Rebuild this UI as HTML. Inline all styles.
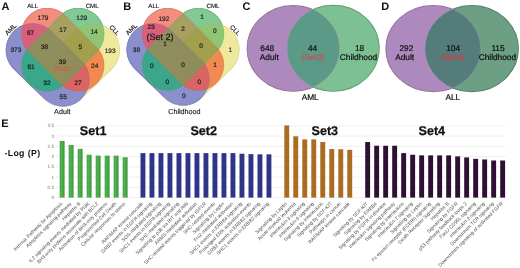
<!DOCTYPE html>
<html><head><meta charset="utf-8"><style>
html,body{margin:0;padding:0;background:#fff;width:520px;height:268px;overflow:hidden;}
svg{display:block;font-family:"Liberation Sans", sans-serif;will-change:transform;text-rendering:geometricPrecision;}
</style></head><body>
<svg width="520" height="268" viewBox="0 0 520 268" font-family='"Liberation Sans", sans-serif'>
<rect width="520" height="268" fill="#fff"/>
<defs><linearGradient id="gG" x1="0" x2="1" y1="0" y2="0"><stop offset="0" stop-color="#3e9e3e"/><stop offset="0.35" stop-color="#52b252"/><stop offset="1" stop-color="#389838"/></linearGradient></defs>
<path d="M44.37,98.43 L45.00,99.02 L45.64,99.59 L46.31,100.14 L46.99,100.67 L47.69,101.18 L48.41,101.66 L49.14,102.12 L49.89,102.55 L50.65,102.96 L51.42,103.35 L52.20,103.71 L53.00,104.04 L53.81,104.35 L54.63,104.63 L55.45,104.89 L56.28,105.11 L57.13,105.31 L57.97,105.49 L58.82,105.63 L59.68,105.75 L60.54,105.83 L61.40,105.89 L62.26,105.93 L63.13,105.93 L63.99,105.90 L64.85,105.85 L65.71,105.77 L66.57,105.66 L67.42,105.52 L68.27,105.36 L69.11,105.17 L69.95,104.95 L70.78,104.70 L71.60,104.43 L72.41,104.12 L73.21,103.80 L73.99,103.44 L74.77,103.06 L75.53,102.66 L76.28,102.23 L77.02,101.78 L77.74,101.30 L78.44,100.80 L79.13,100.28 L79.80,99.73 L80.45,99.17 L81.09,98.58 L81.70,97.97 L82.29,97.34 L82.87,96.69 L83.42,96.03 L83.94,95.35 L84.45,94.65 L84.93,93.93 L85.39,93.20 L85.83,92.45 L86.24,91.69 L86.62,90.92 L86.98,90.13 L87.32,89.34 L87.63,88.53 L87.91,87.71 L88.16,86.89 L88.39,86.05 L88.59,85.21 L88.76,84.37 L88.90,83.51 L89.02,82.66 L89.11,81.80 L89.17,80.94 L89.20,80.07 L89.20,79.21 L89.18,78.35 L89.13,77.48 L89.04,76.62 L88.94,75.77 L88.80,74.91 L88.63,74.07 L88.44,73.22 L88.22,72.39 L87.97,71.56 L87.70,70.74 L87.40,69.93 L87.07,69.13 L86.72,68.34 L86.34,67.57 L85.93,66.80 L85.51,66.05 L85.05,65.32 L84.58,64.60 L84.08,63.89 L83.55,63.21 L83.01,62.54 L82.44,61.88 L81.85,61.25 L81.24,60.64 L51.11,31.23 L50.48,30.64 L49.84,30.07 L49.17,29.52 L48.49,28.99 L47.79,28.48 L47.07,28.00 L46.34,27.54 L45.59,27.11 L44.83,26.70 L44.06,26.31 L43.28,25.95 L42.48,25.62 L41.67,25.31 L40.85,25.03 L40.03,24.77 L39.20,24.55 L38.35,24.35 L37.51,24.17 L36.66,24.03 L35.80,23.91 L34.94,23.83 L34.08,23.77 L33.22,23.73 L32.35,23.73 L31.49,23.76 L30.63,23.81 L29.77,23.89 L28.91,24.00 L28.06,24.14 L27.21,24.30 L26.37,24.49 L25.53,24.71 L24.70,24.96 L23.88,25.23 L23.07,25.54 L22.27,25.86 L21.49,26.22 L20.71,26.60 L19.95,27.00 L19.20,27.43 L18.46,27.88 L17.74,28.36 L17.04,28.86 L16.35,29.38 L15.68,29.93 L15.03,30.49 L14.39,31.08 L13.78,31.69 L13.19,32.32 L12.61,32.97 L12.06,33.63 L11.54,34.31 L11.03,35.01 L10.55,35.73 L10.09,36.46 L9.65,37.21 L9.24,37.97 L8.86,38.74 L8.50,39.53 L8.16,40.32 L7.85,41.13 L7.57,41.95 L7.32,42.77 L7.09,43.61 L6.89,44.45 L6.72,45.29 L6.58,46.15 L6.46,47.00 L6.37,47.86 L6.31,48.72 L6.28,49.59 L6.28,50.45 L6.30,51.31 L6.35,52.18 L6.44,53.04 L6.54,53.89 L6.68,54.75 L6.85,55.59 L7.04,56.44 L7.26,57.27 L7.51,58.10 L7.78,58.92 L8.08,59.73 L8.41,60.53 L8.76,61.32 L9.14,62.09 L9.55,62.86 L9.97,63.61 L10.43,64.34 L10.90,65.06 L11.40,65.77 L11.93,66.45 L12.47,67.12 L13.04,67.78 L13.63,68.41 L14.24,69.02Z" fill="none" stroke="#6e70b0" stroke-width="1.1"/>
<path d="M60.08,83.43 L60.68,84.01 L61.30,84.58 L61.94,85.13 L62.59,85.65 L63.26,86.15 L63.94,86.64 L64.65,87.09 L65.36,87.53 L66.09,87.94 L66.83,88.33 L67.59,88.69 L68.36,89.03 L69.13,89.34 L69.92,89.63 L70.72,89.89 L71.52,90.12 L72.33,90.33 L73.15,90.51 L73.97,90.67 L74.80,90.80 L75.63,90.90 L76.47,90.97 L77.30,91.02 L78.14,91.04 L78.98,91.03 L79.81,90.99 L80.65,90.93 L81.48,90.84 L82.31,90.72 L83.14,90.57 L83.96,90.40 L84.77,90.20 L85.58,89.98 L86.38,89.73 L87.17,89.45 L87.95,89.15 L88.72,88.82 L89.48,88.47 L90.23,88.09 L90.96,87.68 L91.68,87.26 L92.39,86.81 L93.08,86.34 L93.76,85.84 L94.42,85.32 L95.06,84.79 L95.68,84.23 L96.29,83.65 L96.87,83.05 L97.44,82.43 L97.99,81.80 L98.51,81.14 L99.01,80.47 L99.49,79.79 L99.95,79.09 L100.39,78.37 L100.80,77.64 L101.19,76.90 L101.55,76.14 L101.89,75.38 L102.20,74.60 L102.49,73.81 L102.75,73.02 L102.98,72.21 L103.19,71.40 L103.37,70.58 L103.53,69.76 L103.66,68.93 L103.76,68.10 L103.83,67.27 L103.88,66.43 L103.90,65.59 L103.89,64.76 L103.85,63.92 L103.79,63.08 L103.70,62.25 L103.58,61.42 L103.43,60.60 L103.26,59.78 L103.06,58.96 L102.84,58.16 L102.59,57.36 L102.31,56.57 L102.01,55.78 L101.68,55.01 L101.32,54.25 L100.95,53.51 L100.54,52.77 L100.12,52.05 L99.67,51.34 L99.20,50.65 L98.70,49.98 L98.18,49.32 L97.65,48.68 L97.09,48.05 L96.51,47.45 L65.52,16.07 L64.92,15.49 L64.30,14.92 L63.66,14.37 L63.01,13.85 L62.34,13.35 L61.66,12.86 L60.95,12.41 L60.24,11.97 L59.51,11.56 L58.77,11.17 L58.01,10.81 L57.24,10.47 L56.47,10.16 L55.68,9.87 L54.88,9.61 L54.08,9.38 L53.27,9.17 L52.45,8.99 L51.63,8.83 L50.80,8.70 L49.97,8.60 L49.13,8.53 L48.30,8.48 L47.46,8.46 L46.62,8.47 L45.79,8.51 L44.95,8.57 L44.12,8.66 L43.29,8.78 L42.46,8.93 L41.64,9.10 L40.83,9.30 L40.02,9.52 L39.22,9.77 L38.43,10.05 L37.65,10.35 L36.88,10.68 L36.12,11.03 L35.37,11.41 L34.64,11.82 L33.92,12.24 L33.21,12.69 L32.52,13.16 L31.84,13.66 L31.18,14.18 L30.54,14.71 L29.92,15.27 L29.31,15.85 L28.73,16.45 L28.16,17.07 L27.61,17.70 L27.09,18.36 L26.59,19.03 L26.11,19.71 L25.65,20.41 L25.21,21.13 L24.80,21.86 L24.41,22.60 L24.05,23.36 L23.71,24.12 L23.40,24.90 L23.11,25.69 L22.85,26.48 L22.62,27.29 L22.41,28.10 L22.23,28.92 L22.07,29.74 L21.94,30.57 L21.84,31.40 L21.77,32.23 L21.72,33.07 L21.70,33.91 L21.71,34.74 L21.75,35.58 L21.81,36.42 L21.90,37.25 L22.02,38.08 L22.17,38.90 L22.34,39.72 L22.54,40.54 L22.76,41.34 L23.01,42.14 L23.29,42.93 L23.59,43.72 L23.92,44.49 L24.28,45.25 L24.65,45.99 L25.06,46.73 L25.48,47.45 L25.93,48.16 L26.40,48.85 L26.90,49.52 L27.42,50.18 L27.95,50.82 L28.51,51.45 L29.09,52.05Z" fill="none" stroke="#d86a5e" stroke-width="1.1"/>
<path d="M96.51,52.05 L97.09,51.45 L97.65,50.82 L98.18,50.18 L98.70,49.52 L99.20,48.85 L99.67,48.16 L100.12,47.45 L100.54,46.73 L100.95,45.99 L101.32,45.25 L101.68,44.49 L102.01,43.72 L102.31,42.93 L102.59,42.14 L102.84,41.34 L103.06,40.54 L103.26,39.72 L103.43,38.90 L103.58,38.08 L103.70,37.25 L103.79,36.42 L103.85,35.58 L103.89,34.74 L103.90,33.91 L103.88,33.07 L103.83,32.23 L103.76,31.40 L103.66,30.57 L103.53,29.74 L103.37,28.92 L103.19,28.10 L102.98,27.29 L102.75,26.48 L102.49,25.69 L102.20,24.90 L101.89,24.12 L101.55,23.36 L101.19,22.60 L100.80,21.86 L100.39,21.13 L99.95,20.41 L99.49,19.71 L99.01,19.03 L98.51,18.36 L97.99,17.70 L97.44,17.07 L96.87,16.45 L96.29,15.85 L95.68,15.27 L95.06,14.71 L94.42,14.18 L93.76,13.66 L93.08,13.16 L92.39,12.69 L91.68,12.24 L90.96,11.82 L90.23,11.41 L89.48,11.03 L88.72,10.68 L87.95,10.35 L87.17,10.05 L86.38,9.77 L85.58,9.52 L84.77,9.30 L83.96,9.10 L83.14,8.93 L82.31,8.78 L81.48,8.66 L80.65,8.57 L79.81,8.51 L78.98,8.47 L78.14,8.46 L77.30,8.48 L76.47,8.53 L75.63,8.60 L74.80,8.70 L73.97,8.83 L73.15,8.99 L72.33,9.17 L71.52,9.38 L70.72,9.61 L69.92,9.87 L69.13,10.16 L68.36,10.47 L67.59,10.81 L66.83,11.17 L66.09,11.56 L65.36,11.97 L64.65,12.41 L63.94,12.86 L63.26,13.35 L62.59,13.85 L61.94,14.37 L61.30,14.92 L60.68,15.49 L60.08,16.07 L29.09,47.45 L28.51,48.05 L27.95,48.68 L27.42,49.32 L26.90,49.98 L26.40,50.65 L25.93,51.34 L25.48,52.05 L25.06,52.77 L24.65,53.51 L24.28,54.25 L23.92,55.01 L23.59,55.78 L23.29,56.57 L23.01,57.36 L22.76,58.16 L22.54,58.96 L22.34,59.78 L22.17,60.60 L22.02,61.42 L21.90,62.25 L21.81,63.08 L21.75,63.92 L21.71,64.76 L21.70,65.59 L21.72,66.43 L21.77,67.27 L21.84,68.10 L21.94,68.93 L22.07,69.76 L22.23,70.58 L22.41,71.40 L22.62,72.21 L22.85,73.02 L23.11,73.81 L23.40,74.60 L23.71,75.38 L24.05,76.14 L24.41,76.90 L24.80,77.64 L25.21,78.37 L25.65,79.09 L26.11,79.79 L26.59,80.47 L27.09,81.14 L27.61,81.80 L28.16,82.43 L28.73,83.05 L29.31,83.65 L29.92,84.23 L30.54,84.79 L31.18,85.32 L31.84,85.84 L32.52,86.34 L33.21,86.81 L33.92,87.26 L34.64,87.68 L35.37,88.09 L36.12,88.47 L36.88,88.82 L37.65,89.15 L38.43,89.45 L39.22,89.73 L40.02,89.98 L40.83,90.20 L41.64,90.40 L42.46,90.57 L43.29,90.72 L44.12,90.84 L44.95,90.93 L45.79,90.99 L46.62,91.03 L47.46,91.04 L48.30,91.02 L49.13,90.97 L49.97,90.90 L50.80,90.80 L51.63,90.67 L52.45,90.51 L53.27,90.33 L54.08,90.12 L54.88,89.89 L55.68,89.63 L56.47,89.34 L57.24,89.03 L58.01,88.69 L58.77,88.33 L59.51,87.94 L60.24,87.53 L60.95,87.09 L61.66,86.64 L62.34,86.15 L63.01,85.65 L63.66,85.13 L64.30,84.58 L64.92,84.01 L65.52,83.43Z" fill="none" stroke="#52a86a" stroke-width="1.1"/>
<path d="M111.36,69.02 L111.97,68.41 L112.56,67.78 L113.13,67.12 L113.67,66.45 L114.20,65.77 L114.70,65.06 L115.17,64.34 L115.63,63.61 L116.05,62.86 L116.46,62.09 L116.84,61.32 L117.19,60.53 L117.52,59.73 L117.82,58.92 L118.09,58.10 L118.34,57.27 L118.56,56.44 L118.75,55.59 L118.92,54.75 L119.06,53.89 L119.16,53.04 L119.25,52.18 L119.30,51.31 L119.32,50.45 L119.32,49.59 L119.29,48.72 L119.23,47.86 L119.14,47.00 L119.02,46.15 L118.88,45.29 L118.71,44.45 L118.51,43.61 L118.28,42.77 L118.03,41.95 L117.75,41.13 L117.44,40.32 L117.10,39.53 L116.74,38.74 L116.36,37.97 L115.95,37.21 L115.51,36.46 L115.05,35.73 L114.57,35.01 L114.06,34.31 L113.54,33.63 L112.99,32.97 L112.41,32.32 L111.82,31.69 L111.21,31.08 L110.57,30.49 L109.92,29.93 L109.25,29.38 L108.56,28.86 L107.86,28.36 L107.14,27.88 L106.40,27.43 L105.65,27.00 L104.89,26.60 L104.11,26.22 L103.33,25.86 L102.53,25.54 L101.72,25.23 L100.90,24.96 L100.07,24.71 L99.23,24.49 L98.39,24.30 L97.54,24.14 L96.69,24.00 L95.83,23.89 L94.97,23.81 L94.11,23.76 L93.25,23.73 L92.38,23.73 L91.52,23.77 L90.66,23.83 L89.80,23.91 L88.94,24.03 L88.09,24.17 L87.25,24.35 L86.40,24.55 L85.57,24.77 L84.75,25.03 L83.93,25.31 L83.12,25.62 L82.32,25.95 L81.54,26.31 L80.77,26.70 L80.01,27.11 L79.26,27.54 L78.53,28.00 L77.81,28.48 L77.11,28.99 L76.43,29.52 L75.76,30.07 L75.12,30.64 L74.49,31.23 L44.36,60.64 L43.75,61.25 L43.16,61.88 L42.59,62.54 L42.05,63.21 L41.52,63.89 L41.02,64.60 L40.55,65.32 L40.09,66.05 L39.67,66.80 L39.26,67.57 L38.88,68.34 L38.53,69.13 L38.20,69.93 L37.90,70.74 L37.63,71.56 L37.38,72.39 L37.16,73.22 L36.97,74.07 L36.80,74.91 L36.66,75.77 L36.56,76.62 L36.47,77.48 L36.42,78.35 L36.40,79.21 L36.40,80.07 L36.43,80.94 L36.49,81.80 L36.58,82.66 L36.70,83.51 L36.84,84.37 L37.01,85.21 L37.21,86.05 L37.44,86.89 L37.69,87.71 L37.97,88.53 L38.28,89.34 L38.62,90.13 L38.98,90.92 L39.36,91.69 L39.77,92.45 L40.21,93.20 L40.67,93.93 L41.15,94.65 L41.66,95.35 L42.18,96.03 L42.73,96.69 L43.31,97.34 L43.90,97.97 L44.51,98.58 L45.15,99.17 L45.80,99.73 L46.47,100.28 L47.16,100.80 L47.86,101.30 L48.58,101.78 L49.32,102.23 L50.07,102.66 L50.83,103.06 L51.61,103.44 L52.39,103.80 L53.19,104.12 L54.00,104.43 L54.82,104.70 L55.65,104.95 L56.49,105.17 L57.33,105.36 L58.18,105.52 L59.03,105.66 L59.89,105.77 L60.75,105.85 L61.61,105.90 L62.47,105.93 L63.34,105.93 L64.20,105.89 L65.06,105.83 L65.92,105.75 L66.78,105.63 L67.63,105.49 L68.47,105.31 L69.32,105.11 L70.15,104.89 L70.97,104.63 L71.79,104.35 L72.60,104.04 L73.40,103.71 L74.18,103.35 L74.95,102.96 L75.71,102.55 L76.46,102.12 L77.19,101.66 L77.91,101.18 L78.61,100.67 L79.29,100.14 L79.96,99.59 L80.60,99.02 L81.23,98.43Z" fill="none" stroke="#d8d080" stroke-width="1.1"/>
<path d="M102.20,24.90 L101.89,24.12 L101.55,23.36 L101.19,22.60 L100.80,21.86 L100.39,21.13 L99.95,20.41 L99.49,19.71 L99.01,19.03 L98.51,18.36 L97.99,17.70 L97.44,17.07 L96.87,16.45 L96.29,15.85 L95.68,15.27 L95.06,14.71 L94.42,14.18 L93.76,13.66 L93.08,13.16 L92.39,12.69 L91.68,12.24 L90.96,11.82 L90.23,11.41 L89.48,11.03 L88.72,10.68 L87.95,10.35 L87.17,10.05 L86.38,9.77 L85.58,9.52 L84.77,9.30 L83.96,9.10 L83.14,8.93 L82.31,8.78 L81.48,8.66 L80.65,8.57 L79.81,8.51 L78.98,8.47 L78.14,8.46 L77.30,8.48 L76.47,8.53 L75.63,8.60 L74.80,8.70 L73.97,8.83 L73.15,8.99 L72.33,9.17 L71.52,9.38 L70.72,9.61 L69.92,9.87 L69.13,10.16 L68.36,10.47 L67.59,10.81 L66.83,11.17 L66.09,11.56 L65.36,11.97 L64.65,12.41 L63.94,12.86 L63.26,13.35 L62.80,13.69 L62.34,13.35 L61.66,12.86 L60.95,12.41 L60.24,11.97 L59.51,11.56 L58.77,11.17 L58.01,10.81 L57.24,10.47 L56.47,10.16 L55.68,9.87 L54.88,9.61 L54.08,9.38 L53.27,9.17 L52.45,8.99 L51.63,8.83 L50.80,8.70 L49.97,8.60 L49.13,8.53 L48.30,8.48 L47.46,8.46 L46.62,8.47 L45.79,8.51 L44.95,8.57 L44.12,8.66 L43.29,8.78 L42.46,8.93 L41.64,9.10 L40.83,9.30 L40.02,9.52 L39.22,9.77 L38.43,10.05 L37.65,10.35 L36.88,10.68 L36.12,11.03 L35.37,11.41 L34.64,11.82 L33.92,12.24 L33.21,12.69 L32.52,13.16 L31.84,13.66 L31.18,14.18 L30.54,14.71 L29.92,15.27 L29.31,15.85 L28.73,16.45 L28.16,17.07 L27.61,17.70 L27.09,18.36 L26.59,19.03 L26.11,19.71 L25.65,20.41 L25.21,21.13 L24.80,21.86 L24.41,22.60 L24.05,23.36 L23.71,24.12 L23.40,24.90 L23.18,25.50 L23.07,25.54 L22.27,25.86 L21.49,26.22 L20.71,26.60 L19.95,27.00 L19.20,27.43 L18.46,27.88 L17.74,28.36 L17.04,28.86 L16.35,29.38 L15.68,29.93 L15.03,30.49 L14.39,31.08 L13.78,31.69 L13.19,32.32 L12.61,32.97 L12.06,33.63 L11.54,34.31 L11.03,35.01 L10.55,35.73 L10.09,36.46 L9.65,37.21 L9.24,37.97 L8.86,38.74 L8.50,39.53 L8.16,40.32 L7.85,41.13 L7.57,41.95 L7.32,42.77 L7.09,43.61 L6.89,44.45 L6.72,45.29 L6.58,46.15 L6.46,47.00 L6.37,47.86 L6.31,48.72 L6.28,49.59 L6.28,50.45 L6.30,51.31 L6.35,52.18 L6.44,53.04 L6.54,53.89 L6.68,54.75 L6.85,55.59 L7.04,56.44 L7.26,57.27 L7.51,58.10 L7.78,58.92 L8.08,59.73 L8.41,60.53 L8.76,61.32 L9.14,62.09 L9.55,62.86 L9.97,63.61 L10.43,64.34 L10.90,65.06 L11.40,65.77 L11.93,66.45 L12.47,67.12 L13.04,67.78 L13.63,68.41 L14.24,69.02 L43.94,98.01 L44.51,98.58 L45.15,99.17 L45.80,99.73 L46.47,100.28 L47.16,100.80 L47.86,101.30 L48.58,101.78 L49.32,102.23 L50.07,102.66 L50.83,103.06 L51.61,103.44 L52.39,103.80 L53.19,104.12 L54.00,104.43 L54.82,104.70 L55.65,104.95 L56.49,105.17 L57.09,105.31 L57.13,105.31 L57.14,105.32 L57.33,105.36 L57.90,105.47 L57.97,105.49 L58.00,105.49 L58.18,105.52 L58.71,105.61 L58.82,105.63 L58.86,105.64 L59.03,105.66 L59.52,105.72 L59.68,105.75 L59.73,105.75 L59.89,105.77 L60.34,105.81 L60.54,105.83 L60.61,105.84 L60.75,105.85 L61.16,105.88 L61.40,105.89 L61.48,105.90 L61.61,105.90 L61.98,105.92 L62.26,105.93 L62.36,105.93 L62.47,105.93 L62.80,105.93 L63.13,105.93 L63.24,105.93 L63.34,105.93 L63.62,105.92 L63.99,105.90 L64.12,105.90 L64.20,105.89 L64.44,105.88 L64.85,105.85 L64.99,105.84 L65.06,105.83 L65.26,105.81 L65.71,105.77 L65.87,105.75 L65.92,105.75 L66.08,105.72 L66.57,105.66 L66.74,105.64 L66.78,105.63 L66.89,105.61 L67.42,105.52 L67.60,105.49 L67.63,105.49 L67.70,105.47 L68.27,105.36 L68.46,105.32 L68.47,105.31 L68.51,105.31 L69.11,105.17 L69.95,104.95 L70.78,104.70 L71.60,104.43 L72.41,104.12 L73.21,103.80 L73.99,103.44 L74.77,103.06 L75.53,102.66 L76.28,102.23 L77.02,101.78 L77.74,101.30 L78.44,100.80 L79.13,100.28 L79.80,99.73 L80.45,99.17 L81.09,98.58 L81.66,98.01 L111.36,69.02 L111.97,68.41 L112.56,67.78 L113.13,67.12 L113.67,66.45 L114.20,65.77 L114.70,65.06 L115.17,64.34 L115.63,63.61 L116.05,62.86 L116.46,62.09 L116.84,61.32 L117.19,60.53 L117.52,59.73 L117.82,58.92 L118.09,58.10 L118.34,57.27 L118.56,56.44 L118.75,55.59 L118.92,54.75 L119.06,53.89 L119.16,53.04 L119.25,52.18 L119.30,51.31 L119.32,50.45 L119.32,49.59 L119.29,48.72 L119.23,47.86 L119.14,47.00 L119.02,46.15 L118.88,45.29 L118.71,44.45 L118.51,43.61 L118.28,42.77 L118.03,41.95 L117.75,41.13 L117.44,40.32 L117.10,39.53 L116.74,38.74 L116.36,37.97 L115.95,37.21 L115.51,36.46 L115.05,35.73 L114.57,35.01 L114.06,34.31 L113.54,33.63 L112.99,32.97 L112.41,32.32 L111.82,31.69 L111.21,31.08 L110.57,30.49 L109.92,29.93 L109.25,29.38 L108.56,28.86 L107.86,28.36 L107.14,27.88 L106.40,27.43 L105.65,27.00 L104.89,26.60 L104.11,26.22 L103.33,25.86 L102.53,25.54 L102.42,25.50Z" fill="#8e8e80"/>
<path d="M57.13,105.31 L57.14,105.32 L57.09,105.31ZM57.97,105.49 L58.00,105.49 L57.90,105.47ZM58.82,105.63 L58.86,105.64 L58.71,105.61ZM59.68,105.75 L59.73,105.75 L59.52,105.72ZM60.54,105.83 L60.61,105.84 L60.34,105.81ZM61.40,105.89 L61.48,105.90 L61.16,105.88ZM62.26,105.93 L62.36,105.93 L61.98,105.92ZM63.13,105.93 L63.24,105.93 L62.80,105.93ZM63.99,105.90 L64.12,105.90 L63.62,105.92ZM64.85,105.85 L64.99,105.84 L64.44,105.88ZM65.71,105.77 L65.87,105.75 L65.26,105.81ZM66.57,105.66 L66.74,105.64 L66.08,105.72ZM67.42,105.52 L67.60,105.49 L66.89,105.61ZM68.27,105.36 L68.46,105.32 L67.70,105.47ZM69.11,105.17 L69.95,104.95 L70.78,104.70 L71.60,104.43 L72.41,104.12 L73.21,103.80 L73.99,103.44 L74.77,103.06 L75.53,102.66 L76.28,102.23 L77.02,101.78 L77.74,101.30 L78.44,100.80 L79.13,100.28 L79.80,99.73 L80.45,99.17 L81.09,98.58 L81.66,98.01 L81.23,98.43 L80.60,99.02 L79.96,99.59 L79.29,100.14 L78.61,100.67 L77.91,101.18 L77.19,101.66 L76.46,102.12 L75.71,102.55 L74.95,102.96 L74.18,103.35 L73.40,103.71 L72.60,104.04 L71.79,104.35 L70.97,104.63 L70.15,104.89 L69.32,105.11 L68.51,105.31ZM23.07,25.54 L22.27,25.86 L21.49,26.22 L20.71,26.60 L19.95,27.00 L19.20,27.43 L18.46,27.88 L17.74,28.36 L17.04,28.86 L16.35,29.38 L15.68,29.93 L15.03,30.49 L14.39,31.08 L13.78,31.69 L13.19,32.32 L12.61,32.97 L12.06,33.63 L11.54,34.31 L11.03,35.01 L10.55,35.73 L10.09,36.46 L9.65,37.21 L9.24,37.97 L8.86,38.74 L8.50,39.53 L8.16,40.32 L7.85,41.13 L7.57,41.95 L7.32,42.77 L7.09,43.61 L6.89,44.45 L6.72,45.29 L6.58,46.15 L6.46,47.00 L6.37,47.86 L6.31,48.72 L6.28,49.59 L6.28,50.45 L6.30,51.31 L6.35,52.18 L6.44,53.04 L6.54,53.89 L6.68,54.75 L6.85,55.59 L7.04,56.44 L7.26,57.27 L7.51,58.10 L7.78,58.92 L8.08,59.73 L8.41,60.53 L8.76,61.32 L9.14,62.09 L9.55,62.86 L9.97,63.61 L10.43,64.34 L10.90,65.06 L11.40,65.77 L11.93,66.45 L12.47,67.12 L13.04,67.78 L13.63,68.41 L14.24,69.02 L43.94,98.01 L43.90,97.97 L43.31,97.34 L42.73,96.69 L42.18,96.03 L41.66,95.35 L41.15,94.65 L40.67,93.93 L40.21,93.20 L39.77,92.45 L39.36,91.69 L38.98,90.92 L38.62,90.13 L38.31,89.40 L37.65,89.15 L36.88,88.82 L36.12,88.47 L35.37,88.09 L34.64,87.68 L33.92,87.26 L33.21,86.81 L32.52,86.34 L31.84,85.84 L31.18,85.32 L30.54,84.79 L29.92,84.23 L29.31,83.65 L28.73,83.05 L28.16,82.43 L27.61,81.80 L27.09,81.14 L26.59,80.47 L26.11,79.79 L25.65,79.09 L25.21,78.37 L24.80,77.64 L24.41,76.90 L24.05,76.14 L23.71,75.38 L23.40,74.60 L23.11,73.81 L22.85,73.02 L22.62,72.21 L22.41,71.40 L22.23,70.58 L22.07,69.76 L21.94,68.93 L21.84,68.10 L21.77,67.27 L21.72,66.43 L21.70,65.59 L21.71,64.76 L21.75,63.92 L21.81,63.08 L21.90,62.25 L22.02,61.42 L22.17,60.60 L22.34,59.78 L22.54,58.96 L22.76,58.16 L23.01,57.36 L23.29,56.57 L23.59,55.78 L23.92,55.01 L24.28,54.25 L24.65,53.51 L25.06,52.77 L25.48,52.05 L25.93,51.34 L26.40,50.65 L26.90,49.98 L27.08,49.75 L26.90,49.52 L26.40,48.85 L25.93,48.16 L25.48,47.45 L25.06,46.73 L24.65,45.99 L24.28,45.25 L23.92,44.49 L23.59,43.72 L23.29,42.93 L23.01,42.14 L22.76,41.34 L22.54,40.54 L22.34,39.72 L22.17,38.90 L22.02,38.08 L21.90,37.25 L21.81,36.42 L21.75,35.58 L21.71,34.74 L21.70,33.91 L21.72,33.07 L21.77,32.23 L21.84,31.40 L21.94,30.57 L22.07,29.74 L22.23,28.92 L22.41,28.10 L22.62,27.29 L22.85,26.48 L23.11,25.69 L23.18,25.50Z" fill="#8b8fcb" stroke="#8b8fcb" stroke-width="0.7" stroke-linejoin="round"/>
<path d="M62.34,13.35 L61.66,12.86 L60.95,12.41 L60.24,11.97 L59.51,11.56 L58.77,11.17 L58.01,10.81 L57.24,10.47 L56.47,10.16 L55.68,9.87 L54.88,9.61 L54.08,9.38 L53.27,9.17 L52.45,8.99 L51.63,8.83 L50.80,8.70 L49.97,8.60 L49.13,8.53 L48.30,8.48 L47.46,8.46 L46.62,8.47 L45.79,8.51 L44.95,8.57 L44.12,8.66 L43.29,8.78 L42.46,8.93 L41.64,9.10 L40.83,9.30 L40.02,9.52 L39.22,9.77 L38.43,10.05 L37.65,10.35 L36.88,10.68 L36.12,11.03 L35.37,11.41 L34.64,11.82 L33.92,12.24 L33.21,12.69 L32.52,13.16 L31.84,13.66 L31.18,14.18 L30.54,14.71 L29.92,15.27 L29.31,15.85 L28.73,16.45 L28.16,17.07 L27.61,17.70 L27.09,18.36 L26.59,19.03 L26.11,19.71 L25.65,20.41 L25.21,21.13 L24.80,21.86 L24.41,22.60 L24.05,23.36 L23.71,24.12 L23.40,24.90 L23.18,25.50 L23.88,25.23 L24.70,24.96 L25.53,24.71 L26.37,24.49 L27.21,24.30 L28.06,24.14 L28.91,24.00 L29.77,23.89 L30.63,23.81 L31.49,23.76 L32.35,23.73 L33.22,23.73 L34.08,23.77 L34.94,23.83 L35.80,23.91 L36.66,24.03 L37.51,24.17 L38.35,24.35 L39.20,24.55 L40.03,24.77 L40.85,25.03 L41.67,25.31 L42.48,25.62 L43.28,25.95 L44.06,26.31 L44.83,26.70 L45.59,27.11 L46.34,27.54 L47.07,28.00 L47.79,28.48 L47.81,28.50 L60.08,16.07 L60.68,15.49 L61.30,14.92 L61.94,14.37 L62.59,13.85 L62.80,13.69Z" fill="#f38e7e" stroke="#f38e7e" stroke-width="0.7" stroke-linejoin="round"/>
<path d="M102.20,24.90 L101.89,24.12 L101.55,23.36 L101.19,22.60 L100.80,21.86 L100.39,21.13 L99.95,20.41 L99.49,19.71 L99.01,19.03 L98.51,18.36 L97.99,17.70 L97.44,17.07 L96.87,16.45 L96.29,15.85 L95.68,15.27 L95.06,14.71 L94.42,14.18 L93.76,13.66 L93.08,13.16 L92.39,12.69 L91.68,12.24 L90.96,11.82 L90.23,11.41 L89.48,11.03 L88.72,10.68 L87.95,10.35 L87.17,10.05 L86.38,9.77 L85.58,9.52 L84.77,9.30 L83.96,9.10 L83.14,8.93 L82.31,8.78 L81.48,8.66 L80.65,8.57 L79.81,8.51 L78.98,8.47 L78.14,8.46 L77.30,8.48 L76.47,8.53 L75.63,8.60 L74.80,8.70 L73.97,8.83 L73.15,8.99 L72.33,9.17 L71.52,9.38 L70.72,9.61 L69.92,9.87 L69.13,10.16 L68.36,10.47 L67.59,10.81 L66.83,11.17 L66.09,11.56 L65.36,11.97 L64.65,12.41 L63.94,12.86 L63.26,13.35 L62.80,13.69 L63.01,13.85 L63.66,14.37 L64.30,14.92 L64.92,15.49 L65.52,16.07 L77.79,28.50 L77.81,28.48 L78.53,28.00 L79.26,27.54 L80.01,27.11 L80.77,26.70 L81.54,26.31 L82.32,25.95 L83.12,25.62 L83.93,25.31 L84.75,25.03 L85.57,24.77 L86.40,24.55 L87.25,24.35 L88.09,24.17 L88.94,24.03 L89.80,23.91 L90.66,23.83 L91.52,23.77 L92.38,23.73 L93.25,23.73 L94.11,23.76 L94.97,23.81 L95.83,23.89 L96.69,24.00 L97.54,24.14 L98.39,24.30 L99.23,24.49 L100.07,24.71 L100.90,24.96 L101.72,25.23 L102.42,25.50Z" fill="#82c996" stroke="#82c996" stroke-width="0.7" stroke-linejoin="round"/>
<path d="M111.97,68.41 L112.56,67.78 L113.13,67.12 L113.67,66.45 L114.20,65.77 L114.70,65.06 L115.17,64.34 L115.63,63.61 L116.05,62.86 L116.46,62.09 L116.84,61.32 L117.19,60.53 L117.52,59.73 L117.82,58.92 L118.09,58.10 L118.34,57.27 L118.56,56.44 L118.75,55.59 L118.92,54.75 L119.06,53.89 L119.16,53.04 L119.25,52.18 L119.30,51.31 L119.32,50.45 L119.32,49.59 L119.29,48.72 L119.23,47.86 L119.14,47.00 L119.02,46.15 L118.88,45.29 L118.71,44.45 L118.51,43.61 L118.28,42.77 L118.03,41.95 L117.75,41.13 L117.44,40.32 L117.10,39.53 L116.74,38.74 L116.36,37.97 L115.95,37.21 L115.51,36.46 L115.05,35.73 L114.57,35.01 L114.06,34.31 L113.54,33.63 L112.99,32.97 L112.41,32.32 L111.82,31.69 L111.21,31.08 L110.57,30.49 L109.92,29.93 L109.25,29.38 L108.56,28.86 L107.86,28.36 L107.14,27.88 L106.40,27.43 L105.65,27.00 L104.89,26.60 L104.11,26.22 L103.33,25.86 L102.53,25.54 L102.42,25.50 L102.49,25.69 L102.75,26.48 L102.98,27.29 L103.19,28.10 L103.37,28.92 L103.53,29.74 L103.66,30.57 L103.76,31.40 L103.83,32.23 L103.88,33.07 L103.90,33.91 L103.89,34.74 L103.85,35.58 L103.79,36.42 L103.70,37.25 L103.58,38.08 L103.43,38.90 L103.26,39.72 L103.06,40.54 L102.84,41.34 L102.59,42.14 L102.31,42.93 L102.01,43.72 L101.68,44.49 L101.32,45.25 L100.95,45.99 L100.54,46.73 L100.12,47.45 L99.67,48.16 L99.20,48.85 L98.70,49.52 L98.52,49.75 L98.70,49.98 L99.20,50.65 L99.67,51.34 L100.12,52.05 L100.54,52.77 L100.95,53.51 L101.32,54.25 L101.68,55.01 L102.01,55.78 L102.31,56.57 L102.59,57.36 L102.84,58.16 L103.06,58.96 L103.26,59.78 L103.43,60.60 L103.58,61.42 L103.70,62.25 L103.79,63.08 L103.85,63.92 L103.89,64.76 L103.90,65.59 L103.88,66.43 L103.83,67.27 L103.76,68.10 L103.66,68.93 L103.53,69.76 L103.37,70.58 L103.19,71.40 L102.98,72.21 L102.75,73.02 L102.49,73.81 L102.20,74.60 L101.89,75.38 L101.55,76.14 L101.19,76.90 L100.80,77.64 L100.39,78.37 L99.95,79.09 L99.49,79.79 L99.01,80.47 L98.51,81.14 L97.99,81.80 L97.44,82.43 L96.87,83.05 L96.29,83.65 L95.68,84.23 L95.06,84.79 L94.42,85.32 L93.76,85.84 L93.08,86.34 L92.39,86.81 L91.68,87.26 L90.96,87.68 L90.23,88.09 L89.48,88.47 L88.72,88.82 L87.95,89.15 L87.29,89.40 L86.98,90.13 L86.62,90.92 L86.24,91.69 L85.83,92.45 L85.39,93.20 L84.93,93.93 L84.45,94.65 L83.94,95.35 L83.42,96.03 L82.87,96.69 L82.29,97.34 L81.70,97.97 L81.66,98.01 L111.36,69.02ZM44.51,98.58 L45.15,99.17 L45.80,99.73 L46.47,100.28 L47.16,100.80 L47.86,101.30 L48.58,101.78 L49.32,102.23 L50.07,102.66 L50.83,103.06 L51.61,103.44 L52.39,103.80 L53.19,104.12 L54.00,104.43 L54.82,104.70 L55.65,104.95 L56.49,105.17 L57.09,105.31 L56.28,105.11 L55.45,104.89 L54.63,104.63 L53.81,104.35 L53.00,104.04 L52.20,103.71 L51.42,103.35 L50.65,102.96 L49.89,102.55 L49.14,102.12 L48.41,101.66 L47.69,101.18 L46.99,100.67 L46.31,100.14 L45.64,99.59 L45.00,99.02 L44.37,98.43 L43.94,98.01ZM57.33,105.36 L57.90,105.47 L57.14,105.32ZM58.18,105.52 L58.71,105.61 L58.00,105.49ZM59.03,105.66 L59.52,105.72 L58.86,105.64ZM59.89,105.77 L60.34,105.81 L59.73,105.75ZM60.75,105.85 L61.16,105.88 L60.61,105.84ZM61.61,105.90 L61.98,105.92 L61.48,105.90ZM62.47,105.93 L62.80,105.93 L62.36,105.93ZM63.34,105.93 L63.62,105.92 L63.24,105.93ZM64.20,105.89 L64.44,105.88 L64.12,105.90ZM65.06,105.83 L65.26,105.81 L64.99,105.84ZM65.92,105.75 L66.08,105.72 L65.87,105.75ZM66.78,105.63 L66.89,105.61 L66.74,105.64ZM67.63,105.49 L67.70,105.47 L67.60,105.49ZM68.47,105.31 L68.51,105.31 L68.46,105.32Z" fill="#efe99e" stroke="#efe99e" stroke-width="0.7" stroke-linejoin="round"/>
<path d="M47.79,28.48 L47.07,28.00 L46.34,27.54 L45.59,27.11 L44.83,26.70 L44.06,26.31 L43.28,25.95 L42.48,25.62 L41.67,25.31 L40.85,25.03 L40.03,24.77 L39.20,24.55 L38.35,24.35 L37.51,24.17 L36.66,24.03 L35.80,23.91 L34.94,23.83 L34.08,23.77 L33.22,23.73 L32.35,23.73 L31.49,23.76 L30.63,23.81 L29.77,23.89 L28.91,24.00 L28.06,24.14 L27.21,24.30 L26.37,24.49 L25.53,24.71 L24.70,24.96 L23.88,25.23 L23.18,25.50 L23.11,25.69 L22.85,26.48 L22.62,27.29 L22.41,28.10 L22.23,28.92 L22.07,29.74 L21.94,30.57 L21.84,31.40 L21.77,32.23 L21.72,33.07 L21.70,33.91 L21.71,34.74 L21.75,35.58 L21.81,36.42 L21.90,37.25 L22.02,38.08 L22.17,38.90 L22.34,39.72 L22.54,40.54 L22.76,41.34 L23.01,42.14 L23.29,42.93 L23.59,43.72 L23.92,44.49 L24.28,45.25 L24.65,45.99 L25.06,46.73 L25.48,47.45 L25.93,48.16 L26.40,48.85 L26.90,49.52 L27.08,49.75 L27.42,49.32 L27.95,48.68 L28.51,48.05 L29.09,47.45 L47.81,28.50Z" fill="#d8607a" stroke="#d8607a" stroke-width="0.7" stroke-linejoin="round"/>
<path d="M26.90,49.98 L26.40,50.65 L25.93,51.34 L25.48,52.05 L25.06,52.77 L24.65,53.51 L24.28,54.25 L23.92,55.01 L23.59,55.78 L23.29,56.57 L23.01,57.36 L22.76,58.16 L22.54,58.96 L22.34,59.78 L22.17,60.60 L22.02,61.42 L21.90,62.25 L21.81,63.08 L21.75,63.92 L21.71,64.76 L21.70,65.59 L21.72,66.43 L21.77,67.27 L21.84,68.10 L21.94,68.93 L22.07,69.76 L22.23,70.58 L22.41,71.40 L22.62,72.21 L22.85,73.02 L23.11,73.81 L23.40,74.60 L23.71,75.38 L24.05,76.14 L24.41,76.90 L24.80,77.64 L25.21,78.37 L25.65,79.09 L26.11,79.79 L26.59,80.47 L27.09,81.14 L27.61,81.80 L28.16,82.43 L28.73,83.05 L29.31,83.65 L29.92,84.23 L30.54,84.79 L31.18,85.32 L31.84,85.84 L32.52,86.34 L33.21,86.81 L33.92,87.26 L34.64,87.68 L35.37,88.09 L36.12,88.47 L36.88,88.82 L37.65,89.15 L38.31,89.40 L38.28,89.34 L37.97,88.53 L37.69,87.71 L37.44,86.89 L37.21,86.05 L37.01,85.21 L36.84,84.37 L36.70,83.51 L36.58,82.66 L36.49,81.80 L36.43,80.94 L36.40,80.07 L36.40,79.21 L36.42,78.35 L36.47,77.48 L36.56,76.62 L36.66,75.77 L36.80,74.91 L36.97,74.07 L37.16,73.22 L37.38,72.39 L37.63,71.56 L37.90,70.74 L38.20,69.93 L38.53,69.13 L38.88,68.34 L39.26,67.57 L39.67,66.80 L40.09,66.05 L40.55,65.32 L41.02,64.60 L41.22,64.33 L29.09,52.05 L28.51,51.45 L27.95,50.82 L27.42,50.18 L27.08,49.75Z" fill="#3aa68a" stroke="#3aa68a" stroke-width="0.7" stroke-linejoin="round"/>
<path d="M45.64,99.59 L46.31,100.14 L46.99,100.67 L47.69,101.18 L48.41,101.66 L49.14,102.12 L49.89,102.55 L50.65,102.96 L51.42,103.35 L52.20,103.71 L53.00,104.04 L53.81,104.35 L54.63,104.63 L55.45,104.89 L56.28,105.11 L57.09,105.31 L57.14,105.32 L57.90,105.47 L58.00,105.49 L58.71,105.61 L58.86,105.64 L59.52,105.72 L59.73,105.75 L60.34,105.81 L60.61,105.84 L61.16,105.88 L61.48,105.90 L61.98,105.92 L62.36,105.93 L62.80,105.93 L63.24,105.93 L63.62,105.92 L64.12,105.90 L64.44,105.88 L64.99,105.84 L65.26,105.81 L65.87,105.75 L66.08,105.72 L66.74,105.64 L66.89,105.61 L67.60,105.49 L67.70,105.47 L68.46,105.32 L68.51,105.31 L69.32,105.11 L70.15,104.89 L70.97,104.63 L71.79,104.35 L72.60,104.04 L73.40,103.71 L74.18,103.35 L74.95,102.96 L75.71,102.55 L76.46,102.12 L77.19,101.66 L77.91,101.18 L78.61,100.67 L79.29,100.14 L79.96,99.59 L80.60,99.02 L81.23,98.43 L81.66,98.01 L81.70,97.97 L82.29,97.34 L82.87,96.69 L83.42,96.03 L83.94,95.35 L84.45,94.65 L84.93,93.93 L85.39,93.20 L85.83,92.45 L86.24,91.69 L86.62,90.92 L86.98,90.13 L87.29,89.40 L87.17,89.45 L86.38,89.73 L85.58,89.98 L84.77,90.20 L83.96,90.40 L83.14,90.57 L82.31,90.72 L81.48,90.84 L80.65,90.93 L79.81,90.99 L78.98,91.03 L78.14,91.04 L77.30,91.02 L76.47,90.97 L75.63,90.90 L74.80,90.80 L73.97,90.67 L73.15,90.51 L72.33,90.33 L71.52,90.12 L70.72,89.89 L69.92,89.63 L69.13,89.34 L68.36,89.03 L67.59,88.69 L66.83,88.33 L66.09,87.94 L65.36,87.53 L64.65,87.09 L63.94,86.64 L63.26,86.15 L62.80,85.81 L62.34,86.15 L61.66,86.64 L60.95,87.09 L60.24,87.53 L59.51,87.94 L58.77,88.33 L58.01,88.69 L57.24,89.03 L56.47,89.34 L55.68,89.63 L54.88,89.89 L54.08,90.12 L53.27,90.33 L52.45,90.51 L51.63,90.67 L50.80,90.80 L49.97,90.90 L49.13,90.97 L48.30,91.02 L47.46,91.04 L46.62,91.03 L45.79,90.99 L44.95,90.93 L44.12,90.84 L43.29,90.72 L42.46,90.57 L41.64,90.40 L40.83,90.20 L40.02,89.98 L39.22,89.73 L38.43,89.45 L38.31,89.40 L38.62,90.13 L38.98,90.92 L39.36,91.69 L39.77,92.45 L40.21,93.20 L40.67,93.93 L41.15,94.65 L41.66,95.35 L42.18,96.03 L42.73,96.69 L43.31,97.34 L43.90,97.97 L43.94,98.01 L44.37,98.43 L45.00,99.02Z" fill="#8b8fcb" stroke="#8b8fcb" stroke-width="0.7" stroke-linejoin="round"/>
<path d="M65.52,16.07 L64.92,15.49 L64.30,14.92 L63.66,14.37 L63.01,13.85 L62.80,13.69 L62.59,13.85 L61.94,14.37 L61.30,14.92 L60.68,15.49 L60.08,16.07 L47.81,28.50 L48.49,28.99 L49.17,29.52 L49.84,30.07 L50.48,30.64 L51.11,31.23 L62.80,42.64 L74.49,31.23 L75.12,30.64 L75.76,30.07 L76.43,29.52 L77.11,28.99 L77.79,28.50Z" fill="#a8a060" stroke="#a8a060" stroke-width="0.7" stroke-linejoin="round"/>
<path d="M87.95,89.15 L88.72,88.82 L89.48,88.47 L90.23,88.09 L90.96,87.68 L91.68,87.26 L92.39,86.81 L93.08,86.34 L93.76,85.84 L94.42,85.32 L95.06,84.79 L95.68,84.23 L96.29,83.65 L96.87,83.05 L97.44,82.43 L97.99,81.80 L98.51,81.14 L99.01,80.47 L99.49,79.79 L99.95,79.09 L100.39,78.37 L100.80,77.64 L101.19,76.90 L101.55,76.14 L101.89,75.38 L102.20,74.60 L102.49,73.81 L102.75,73.02 L102.98,72.21 L103.19,71.40 L103.37,70.58 L103.53,69.76 L103.66,68.93 L103.76,68.10 L103.83,67.27 L103.88,66.43 L103.90,65.59 L103.89,64.76 L103.85,63.92 L103.79,63.08 L103.70,62.25 L103.58,61.42 L103.43,60.60 L103.26,59.78 L103.06,58.96 L102.84,58.16 L102.59,57.36 L102.31,56.57 L102.01,55.78 L101.68,55.01 L101.32,54.25 L100.95,53.51 L100.54,52.77 L100.12,52.05 L99.67,51.34 L99.20,50.65 L98.70,49.98 L98.52,49.75 L98.18,50.18 L97.65,50.82 L97.09,51.45 L96.51,52.05 L84.38,64.33 L84.58,64.60 L85.05,65.32 L85.51,66.05 L85.93,66.80 L86.34,67.57 L86.72,68.34 L87.07,69.13 L87.40,69.93 L87.70,70.74 L87.97,71.56 L88.22,72.39 L88.44,73.22 L88.63,74.07 L88.80,74.91 L88.94,75.77 L89.04,76.62 L89.13,77.48 L89.18,78.35 L89.20,79.21 L89.20,80.07 L89.17,80.94 L89.11,81.80 L89.02,82.66 L88.90,83.51 L88.76,84.37 L88.59,85.21 L88.39,86.05 L88.16,86.89 L87.91,87.71 L87.63,88.53 L87.32,89.34 L87.29,89.40Z" fill="#f08a50" stroke="#f08a50" stroke-width="0.7" stroke-linejoin="round"/>
<path d="M98.70,49.52 L99.20,48.85 L99.67,48.16 L100.12,47.45 L100.54,46.73 L100.95,45.99 L101.32,45.25 L101.68,44.49 L102.01,43.72 L102.31,42.93 L102.59,42.14 L102.84,41.34 L103.06,40.54 L103.26,39.72 L103.43,38.90 L103.58,38.08 L103.70,37.25 L103.79,36.42 L103.85,35.58 L103.89,34.74 L103.90,33.91 L103.88,33.07 L103.83,32.23 L103.76,31.40 L103.66,30.57 L103.53,29.74 L103.37,28.92 L103.19,28.10 L102.98,27.29 L102.75,26.48 L102.49,25.69 L102.42,25.50 L101.72,25.23 L100.90,24.96 L100.07,24.71 L99.23,24.49 L98.39,24.30 L97.54,24.14 L96.69,24.00 L95.83,23.89 L94.97,23.81 L94.11,23.76 L93.25,23.73 L92.38,23.73 L91.52,23.77 L90.66,23.83 L89.80,23.91 L88.94,24.03 L88.09,24.17 L87.25,24.35 L86.40,24.55 L85.57,24.77 L84.75,25.03 L83.93,25.31 L83.12,25.62 L82.32,25.95 L81.54,26.31 L80.77,26.70 L80.01,27.11 L79.26,27.54 L78.53,28.00 L77.81,28.48 L77.79,28.50 L96.51,47.45 L97.09,48.05 L97.65,48.68 L98.18,49.32 L98.52,49.75Z" fill="#8ec676" stroke="#8ec676" stroke-width="0.7" stroke-linejoin="round"/>
<path d="M51.11,31.23 L50.48,30.64 L49.84,30.07 L49.17,29.52 L48.49,28.99 L47.81,28.50 L29.09,47.45 L28.51,48.05 L27.95,48.68 L27.42,49.32 L27.08,49.75 L27.42,50.18 L27.95,50.82 L28.51,51.45 L29.09,52.05 L41.22,64.33 L41.52,63.89 L42.05,63.21 L42.59,62.54 L43.16,61.88 L43.75,61.25 L44.36,60.64 L62.80,42.64Z" fill="#8e8e5e" stroke="#8e8e5e" stroke-width="0.7" stroke-linejoin="round"/>
<path d="M87.91,87.71 L88.16,86.89 L88.39,86.05 L88.59,85.21 L88.76,84.37 L88.90,83.51 L89.02,82.66 L89.11,81.80 L89.17,80.94 L89.20,80.07 L89.20,79.21 L89.18,78.35 L89.13,77.48 L89.04,76.62 L88.94,75.77 L88.80,74.91 L88.63,74.07 L88.44,73.22 L88.22,72.39 L87.97,71.56 L87.70,70.74 L87.40,69.93 L87.07,69.13 L86.72,68.34 L86.34,67.57 L85.93,66.80 L85.51,66.05 L85.05,65.32 L84.58,64.60 L84.38,64.33 L65.52,83.43 L64.92,84.01 L64.30,84.58 L63.66,85.13 L63.01,85.65 L62.80,85.81 L63.26,86.15 L63.94,86.64 L64.65,87.09 L65.36,87.53 L66.09,87.94 L66.83,88.33 L67.59,88.69 L68.36,89.03 L69.13,89.34 L69.92,89.63 L70.72,89.89 L71.52,90.12 L72.33,90.33 L73.15,90.51 L73.97,90.67 L74.80,90.80 L75.63,90.90 L76.47,90.97 L77.30,91.02 L78.14,91.04 L78.98,91.03 L79.81,90.99 L80.65,90.93 L81.48,90.84 L82.31,90.72 L83.14,90.57 L83.96,90.40 L84.77,90.20 L85.58,89.98 L86.38,89.73 L87.17,89.45 L87.29,89.40 L87.32,89.34 L87.63,88.53Z" fill="#d86464" stroke="#d86464" stroke-width="0.7" stroke-linejoin="round"/>
<path d="M41.02,64.60 L40.55,65.32 L40.09,66.05 L39.67,66.80 L39.26,67.57 L38.88,68.34 L38.53,69.13 L38.20,69.93 L37.90,70.74 L37.63,71.56 L37.38,72.39 L37.16,73.22 L36.97,74.07 L36.80,74.91 L36.66,75.77 L36.56,76.62 L36.47,77.48 L36.42,78.35 L36.40,79.21 L36.40,80.07 L36.43,80.94 L36.49,81.80 L36.58,82.66 L36.70,83.51 L36.84,84.37 L37.01,85.21 L37.21,86.05 L37.44,86.89 L37.69,87.71 L37.97,88.53 L38.28,89.34 L38.31,89.40 L38.43,89.45 L39.22,89.73 L40.02,89.98 L40.83,90.20 L41.64,90.40 L42.46,90.57 L43.29,90.72 L44.12,90.84 L44.95,90.93 L45.79,90.99 L46.62,91.03 L47.46,91.04 L48.30,91.02 L49.13,90.97 L49.97,90.90 L50.80,90.80 L51.63,90.67 L52.45,90.51 L53.27,90.33 L54.08,90.12 L54.88,89.89 L55.68,89.63 L56.47,89.34 L57.24,89.03 L58.01,88.69 L58.77,88.33 L59.51,87.94 L60.24,87.53 L60.95,87.09 L61.66,86.64 L62.34,86.15 L62.80,85.81 L62.59,85.65 L61.94,85.13 L61.30,84.58 L60.68,84.01 L60.08,83.43 L41.22,64.33Z" fill="#3aa68a" stroke="#3aa68a" stroke-width="0.7" stroke-linejoin="round"/>
<path d="M96.51,52.05 L97.09,51.45 L97.65,50.82 L98.18,50.18 L98.52,49.75 L98.18,49.32 L97.65,48.68 L97.09,48.05 L96.51,47.45 L77.79,28.50 L77.11,28.99 L76.43,29.52 L75.76,30.07 L75.12,30.64 L74.49,31.23 L62.80,42.64 L81.24,60.64 L81.85,61.25 L82.44,61.88 L83.01,62.54 L83.55,63.21 L84.08,63.89 L84.38,64.33Z" fill="#a2a04c" stroke="#a2a04c" stroke-width="0.7" stroke-linejoin="round"/>
<path d="M83.55,63.21 L83.01,62.54 L82.44,61.88 L81.85,61.25 L81.24,60.64 L62.80,42.64 L44.36,60.64 L43.75,61.25 L43.16,61.88 L42.59,62.54 L42.05,63.21 L41.52,63.89 L41.22,64.33 L60.08,83.43 L60.68,84.01 L61.30,84.58 L61.94,85.13 L62.59,85.65 L62.80,85.81 L63.01,85.65 L63.66,85.13 L64.30,84.58 L64.92,84.01 L65.52,83.43 L84.38,64.33 L84.08,63.89Z" fill="#8f8d5c" stroke="#8f8d5c" stroke-width="0.7" stroke-linejoin="round"/>
<path d="M44.37,98.43 L45.00,99.02 L45.64,99.59 L46.31,100.14 L46.99,100.67 L47.69,101.18 L48.41,101.66 L49.14,102.12 L49.89,102.55 L50.65,102.96 L51.42,103.35 L52.20,103.71 L53.00,104.04 L53.81,104.35 L54.63,104.63 L55.45,104.89 L56.28,105.11 L57.13,105.31 L57.97,105.49 L58.82,105.63 L59.68,105.75 L60.54,105.83 L61.40,105.89 L62.26,105.93 L63.13,105.93 L63.99,105.90 L64.85,105.85 L65.71,105.77 L66.57,105.66 L67.42,105.52 L68.27,105.36 L69.11,105.17 L69.95,104.95 L70.78,104.70 L71.60,104.43 L72.41,104.12 L73.21,103.80 L73.99,103.44 L74.77,103.06 L75.53,102.66 L76.28,102.23 L77.02,101.78 L77.74,101.30 L78.44,100.80 L79.13,100.28 L79.80,99.73 L80.45,99.17 L81.09,98.58 L81.70,97.97 L82.29,97.34 L82.87,96.69 L83.42,96.03 L83.94,95.35 L84.45,94.65 L84.93,93.93 L85.39,93.20 L85.83,92.45 L86.24,91.69 L86.62,90.92 L86.98,90.13 L87.32,89.34 L87.63,88.53 L87.91,87.71 L88.16,86.89 L88.39,86.05 L88.59,85.21 L88.76,84.37 L88.90,83.51 L89.02,82.66 L89.11,81.80 L89.17,80.94 L89.20,80.07 L89.20,79.21 L89.18,78.35 L89.13,77.48 L89.04,76.62 L88.94,75.77 L88.80,74.91 L88.63,74.07 L88.44,73.22 L88.22,72.39 L87.97,71.56 L87.70,70.74 L87.40,69.93 L87.07,69.13 L86.72,68.34 L86.34,67.57 L85.93,66.80 L85.51,66.05 L85.05,65.32 L84.58,64.60 L84.08,63.89 L83.55,63.21 L83.01,62.54 L82.44,61.88 L81.85,61.25 L81.24,60.64 L51.11,31.23 L50.48,30.64 L49.84,30.07 L49.17,29.52 L48.49,28.99 L47.79,28.48 L47.07,28.00 L46.34,27.54 L45.59,27.11 L44.83,26.70 L44.06,26.31 L43.28,25.95 L42.48,25.62 L41.67,25.31 L40.85,25.03 L40.03,24.77 L39.20,24.55 L38.35,24.35 L37.51,24.17 L36.66,24.03 L35.80,23.91 L34.94,23.83 L34.08,23.77 L33.22,23.73 L32.35,23.73 L31.49,23.76 L30.63,23.81 L29.77,23.89 L28.91,24.00 L28.06,24.14 L27.21,24.30 L26.37,24.49 L25.53,24.71 L24.70,24.96 L23.88,25.23 L23.07,25.54 L22.27,25.86 L21.49,26.22 L20.71,26.60 L19.95,27.00 L19.20,27.43 L18.46,27.88 L17.74,28.36 L17.04,28.86 L16.35,29.38 L15.68,29.93 L15.03,30.49 L14.39,31.08 L13.78,31.69 L13.19,32.32 L12.61,32.97 L12.06,33.63 L11.54,34.31 L11.03,35.01 L10.55,35.73 L10.09,36.46 L9.65,37.21 L9.24,37.97 L8.86,38.74 L8.50,39.53 L8.16,40.32 L7.85,41.13 L7.57,41.95 L7.32,42.77 L7.09,43.61 L6.89,44.45 L6.72,45.29 L6.58,46.15 L6.46,47.00 L6.37,47.86 L6.31,48.72 L6.28,49.59 L6.28,50.45 L6.30,51.31 L6.35,52.18 L6.44,53.04 L6.54,53.89 L6.68,54.75 L6.85,55.59 L7.04,56.44 L7.26,57.27 L7.51,58.10 L7.78,58.92 L8.08,59.73 L8.41,60.53 L8.76,61.32 L9.14,62.09 L9.55,62.86 L9.97,63.61 L10.43,64.34 L10.90,65.06 L11.40,65.77 L11.93,66.45 L12.47,67.12 L13.04,67.78 L13.63,68.41 L14.24,69.02Z" fill="none" stroke="#6e70b0" stroke-width="0.6" stroke-opacity="0.4"/>
<path d="M60.08,83.43 L60.68,84.01 L61.30,84.58 L61.94,85.13 L62.59,85.65 L63.26,86.15 L63.94,86.64 L64.65,87.09 L65.36,87.53 L66.09,87.94 L66.83,88.33 L67.59,88.69 L68.36,89.03 L69.13,89.34 L69.92,89.63 L70.72,89.89 L71.52,90.12 L72.33,90.33 L73.15,90.51 L73.97,90.67 L74.80,90.80 L75.63,90.90 L76.47,90.97 L77.30,91.02 L78.14,91.04 L78.98,91.03 L79.81,90.99 L80.65,90.93 L81.48,90.84 L82.31,90.72 L83.14,90.57 L83.96,90.40 L84.77,90.20 L85.58,89.98 L86.38,89.73 L87.17,89.45 L87.95,89.15 L88.72,88.82 L89.48,88.47 L90.23,88.09 L90.96,87.68 L91.68,87.26 L92.39,86.81 L93.08,86.34 L93.76,85.84 L94.42,85.32 L95.06,84.79 L95.68,84.23 L96.29,83.65 L96.87,83.05 L97.44,82.43 L97.99,81.80 L98.51,81.14 L99.01,80.47 L99.49,79.79 L99.95,79.09 L100.39,78.37 L100.80,77.64 L101.19,76.90 L101.55,76.14 L101.89,75.38 L102.20,74.60 L102.49,73.81 L102.75,73.02 L102.98,72.21 L103.19,71.40 L103.37,70.58 L103.53,69.76 L103.66,68.93 L103.76,68.10 L103.83,67.27 L103.88,66.43 L103.90,65.59 L103.89,64.76 L103.85,63.92 L103.79,63.08 L103.70,62.25 L103.58,61.42 L103.43,60.60 L103.26,59.78 L103.06,58.96 L102.84,58.16 L102.59,57.36 L102.31,56.57 L102.01,55.78 L101.68,55.01 L101.32,54.25 L100.95,53.51 L100.54,52.77 L100.12,52.05 L99.67,51.34 L99.20,50.65 L98.70,49.98 L98.18,49.32 L97.65,48.68 L97.09,48.05 L96.51,47.45 L65.52,16.07 L64.92,15.49 L64.30,14.92 L63.66,14.37 L63.01,13.85 L62.34,13.35 L61.66,12.86 L60.95,12.41 L60.24,11.97 L59.51,11.56 L58.77,11.17 L58.01,10.81 L57.24,10.47 L56.47,10.16 L55.68,9.87 L54.88,9.61 L54.08,9.38 L53.27,9.17 L52.45,8.99 L51.63,8.83 L50.80,8.70 L49.97,8.60 L49.13,8.53 L48.30,8.48 L47.46,8.46 L46.62,8.47 L45.79,8.51 L44.95,8.57 L44.12,8.66 L43.29,8.78 L42.46,8.93 L41.64,9.10 L40.83,9.30 L40.02,9.52 L39.22,9.77 L38.43,10.05 L37.65,10.35 L36.88,10.68 L36.12,11.03 L35.37,11.41 L34.64,11.82 L33.92,12.24 L33.21,12.69 L32.52,13.16 L31.84,13.66 L31.18,14.18 L30.54,14.71 L29.92,15.27 L29.31,15.85 L28.73,16.45 L28.16,17.07 L27.61,17.70 L27.09,18.36 L26.59,19.03 L26.11,19.71 L25.65,20.41 L25.21,21.13 L24.80,21.86 L24.41,22.60 L24.05,23.36 L23.71,24.12 L23.40,24.90 L23.11,25.69 L22.85,26.48 L22.62,27.29 L22.41,28.10 L22.23,28.92 L22.07,29.74 L21.94,30.57 L21.84,31.40 L21.77,32.23 L21.72,33.07 L21.70,33.91 L21.71,34.74 L21.75,35.58 L21.81,36.42 L21.90,37.25 L22.02,38.08 L22.17,38.90 L22.34,39.72 L22.54,40.54 L22.76,41.34 L23.01,42.14 L23.29,42.93 L23.59,43.72 L23.92,44.49 L24.28,45.25 L24.65,45.99 L25.06,46.73 L25.48,47.45 L25.93,48.16 L26.40,48.85 L26.90,49.52 L27.42,50.18 L27.95,50.82 L28.51,51.45 L29.09,52.05Z" fill="none" stroke="#d86a5e" stroke-width="0.6" stroke-opacity="0.4"/>
<path d="M96.51,52.05 L97.09,51.45 L97.65,50.82 L98.18,50.18 L98.70,49.52 L99.20,48.85 L99.67,48.16 L100.12,47.45 L100.54,46.73 L100.95,45.99 L101.32,45.25 L101.68,44.49 L102.01,43.72 L102.31,42.93 L102.59,42.14 L102.84,41.34 L103.06,40.54 L103.26,39.72 L103.43,38.90 L103.58,38.08 L103.70,37.25 L103.79,36.42 L103.85,35.58 L103.89,34.74 L103.90,33.91 L103.88,33.07 L103.83,32.23 L103.76,31.40 L103.66,30.57 L103.53,29.74 L103.37,28.92 L103.19,28.10 L102.98,27.29 L102.75,26.48 L102.49,25.69 L102.20,24.90 L101.89,24.12 L101.55,23.36 L101.19,22.60 L100.80,21.86 L100.39,21.13 L99.95,20.41 L99.49,19.71 L99.01,19.03 L98.51,18.36 L97.99,17.70 L97.44,17.07 L96.87,16.45 L96.29,15.85 L95.68,15.27 L95.06,14.71 L94.42,14.18 L93.76,13.66 L93.08,13.16 L92.39,12.69 L91.68,12.24 L90.96,11.82 L90.23,11.41 L89.48,11.03 L88.72,10.68 L87.95,10.35 L87.17,10.05 L86.38,9.77 L85.58,9.52 L84.77,9.30 L83.96,9.10 L83.14,8.93 L82.31,8.78 L81.48,8.66 L80.65,8.57 L79.81,8.51 L78.98,8.47 L78.14,8.46 L77.30,8.48 L76.47,8.53 L75.63,8.60 L74.80,8.70 L73.97,8.83 L73.15,8.99 L72.33,9.17 L71.52,9.38 L70.72,9.61 L69.92,9.87 L69.13,10.16 L68.36,10.47 L67.59,10.81 L66.83,11.17 L66.09,11.56 L65.36,11.97 L64.65,12.41 L63.94,12.86 L63.26,13.35 L62.59,13.85 L61.94,14.37 L61.30,14.92 L60.68,15.49 L60.08,16.07 L29.09,47.45 L28.51,48.05 L27.95,48.68 L27.42,49.32 L26.90,49.98 L26.40,50.65 L25.93,51.34 L25.48,52.05 L25.06,52.77 L24.65,53.51 L24.28,54.25 L23.92,55.01 L23.59,55.78 L23.29,56.57 L23.01,57.36 L22.76,58.16 L22.54,58.96 L22.34,59.78 L22.17,60.60 L22.02,61.42 L21.90,62.25 L21.81,63.08 L21.75,63.92 L21.71,64.76 L21.70,65.59 L21.72,66.43 L21.77,67.27 L21.84,68.10 L21.94,68.93 L22.07,69.76 L22.23,70.58 L22.41,71.40 L22.62,72.21 L22.85,73.02 L23.11,73.81 L23.40,74.60 L23.71,75.38 L24.05,76.14 L24.41,76.90 L24.80,77.64 L25.21,78.37 L25.65,79.09 L26.11,79.79 L26.59,80.47 L27.09,81.14 L27.61,81.80 L28.16,82.43 L28.73,83.05 L29.31,83.65 L29.92,84.23 L30.54,84.79 L31.18,85.32 L31.84,85.84 L32.52,86.34 L33.21,86.81 L33.92,87.26 L34.64,87.68 L35.37,88.09 L36.12,88.47 L36.88,88.82 L37.65,89.15 L38.43,89.45 L39.22,89.73 L40.02,89.98 L40.83,90.20 L41.64,90.40 L42.46,90.57 L43.29,90.72 L44.12,90.84 L44.95,90.93 L45.79,90.99 L46.62,91.03 L47.46,91.04 L48.30,91.02 L49.13,90.97 L49.97,90.90 L50.80,90.80 L51.63,90.67 L52.45,90.51 L53.27,90.33 L54.08,90.12 L54.88,89.89 L55.68,89.63 L56.47,89.34 L57.24,89.03 L58.01,88.69 L58.77,88.33 L59.51,87.94 L60.24,87.53 L60.95,87.09 L61.66,86.64 L62.34,86.15 L63.01,85.65 L63.66,85.13 L64.30,84.58 L64.92,84.01 L65.52,83.43Z" fill="none" stroke="#52a86a" stroke-width="0.6" stroke-opacity="0.4"/>
<text x="43.05" y="20.48" font-size="6.5" fill="#351f1b" text-anchor="middle" font-weight="normal" stroke="#351f1b" stroke-width="0.22">179</text>
<text x="30.50" y="34.93" font-size="6.5" fill="#2f151a" text-anchor="middle" font-weight="normal" stroke="#2f151a" stroke-width="0.22">67</text>
<text x="15.90" y="52.23" font-size="6.5" fill="#1e1f2c" text-anchor="middle" font-weight="normal" stroke="#1e1f2c" stroke-width="0.22">373</text>
<text x="44.60" y="48.73" font-size="6.5" fill="#1f1f14" text-anchor="middle" font-weight="normal" stroke="#1f1f14" stroke-width="0.22">38</text>
<text x="62.90" y="31.93" font-size="6.5" fill="#242315" text-anchor="middle" font-weight="normal" stroke="#242315" stroke-width="0.22">17</text>
<text x="81.70" y="20.13" font-size="6.5" fill="#1c2c21" text-anchor="middle" font-weight="normal" stroke="#1c2c21" stroke-width="0.22">129</text>
<text x="94.00" y="34.13" font-size="6.5" fill="#1f2b19" text-anchor="middle" font-weight="normal" stroke="#1f2b19" stroke-width="0.22">14</text>
<text x="80.20" y="48.83" font-size="6.5" fill="#232310" text-anchor="middle" font-weight="normal" stroke="#232310" stroke-width="0.22">5</text>
<text x="110.10" y="52.63" font-size="6.5" fill="#343322" text-anchor="middle" font-weight="normal" stroke="#343322" stroke-width="0.22">193</text>
<text x="62.45" y="63.73" font-size="6.5" fill="#1f1f14" text-anchor="middle" font-weight="normal" stroke="#1f1f14" stroke-width="0.22">39</text>
<text x="31.00" y="68.83" font-size="6.5" fill="#0c241e" text-anchor="middle" font-weight="normal" stroke="#0c241e" stroke-width="0.22">61</text>
<text x="94.70" y="67.83" font-size="6.5" fill="#341e11" text-anchor="middle" font-weight="normal" stroke="#341e11" stroke-width="0.22">24</text>
<text x="46.90" y="85.13" font-size="6.5" fill="#0c241e" text-anchor="middle" font-weight="normal" stroke="#0c241e" stroke-width="0.22">32</text>
<text x="78.00" y="85.13" font-size="6.5" fill="#2f1616" text-anchor="middle" font-weight="normal" stroke="#2f1616" stroke-width="0.22">27</text>
<text x="63.20" y="98.93" font-size="6.5" fill="#1e1f2c" text-anchor="middle" font-weight="normal" stroke="#1e1f2c" stroke-width="0.22">55</text>
<text x="62.60" y="71.00" font-size="6.4" fill="#dc5840" text-anchor="middle" stroke="#dc5840" stroke-width="0.12">(Set1)</text>
<text x="32.75" y="8.37" font-size="6.2" fill="#222" text-anchor="middle" font-weight="normal" stroke="#222" stroke-width="0.18">ALL</text>
<text x="92.20" y="8.17" font-size="6.2" fill="#222" text-anchor="middle" font-weight="normal" stroke="#222" stroke-width="0.18">CML</text>
<text x="10.60" y="31.46" font-size="6.3" fill="#222" stroke="#222" stroke-width="0.18" text-anchor="middle" transform="rotate(-45 10.60 29.20)">AML</text>
<text x="114.60" y="32.36" font-size="6.3" fill="#222" stroke="#222" stroke-width="0.18" text-anchor="middle" transform="rotate(45 114.60 30.10)">CLL</text>
<text x="62.30" y="113.80" font-size="7.2" fill="#222" text-anchor="middle"  stroke="#222" stroke-width="0.15">Adult</text>
<text x="1.60" y="9.70" font-size="11" fill="#111" text-anchor="start" font-weight="bold">A</text>
<g transform="translate(183.0,56.6) scale(0.99) translate(-62.8,-57)"><path d="M44.37,98.43 L45.00,99.02 L45.64,99.59 L46.31,100.14 L46.99,100.67 L47.69,101.18 L48.41,101.66 L49.14,102.12 L49.89,102.55 L50.65,102.96 L51.42,103.35 L52.20,103.71 L53.00,104.04 L53.81,104.35 L54.63,104.63 L55.45,104.89 L56.28,105.11 L57.13,105.31 L57.97,105.49 L58.82,105.63 L59.68,105.75 L60.54,105.83 L61.40,105.89 L62.26,105.93 L63.13,105.93 L63.99,105.90 L64.85,105.85 L65.71,105.77 L66.57,105.66 L67.42,105.52 L68.27,105.36 L69.11,105.17 L69.95,104.95 L70.78,104.70 L71.60,104.43 L72.41,104.12 L73.21,103.80 L73.99,103.44 L74.77,103.06 L75.53,102.66 L76.28,102.23 L77.02,101.78 L77.74,101.30 L78.44,100.80 L79.13,100.28 L79.80,99.73 L80.45,99.17 L81.09,98.58 L81.70,97.97 L82.29,97.34 L82.87,96.69 L83.42,96.03 L83.94,95.35 L84.45,94.65 L84.93,93.93 L85.39,93.20 L85.83,92.45 L86.24,91.69 L86.62,90.92 L86.98,90.13 L87.32,89.34 L87.63,88.53 L87.91,87.71 L88.16,86.89 L88.39,86.05 L88.59,85.21 L88.76,84.37 L88.90,83.51 L89.02,82.66 L89.11,81.80 L89.17,80.94 L89.20,80.07 L89.20,79.21 L89.18,78.35 L89.13,77.48 L89.04,76.62 L88.94,75.77 L88.80,74.91 L88.63,74.07 L88.44,73.22 L88.22,72.39 L87.97,71.56 L87.70,70.74 L87.40,69.93 L87.07,69.13 L86.72,68.34 L86.34,67.57 L85.93,66.80 L85.51,66.05 L85.05,65.32 L84.58,64.60 L84.08,63.89 L83.55,63.21 L83.01,62.54 L82.44,61.88 L81.85,61.25 L81.24,60.64 L51.11,31.23 L50.48,30.64 L49.84,30.07 L49.17,29.52 L48.49,28.99 L47.79,28.48 L47.07,28.00 L46.34,27.54 L45.59,27.11 L44.83,26.70 L44.06,26.31 L43.28,25.95 L42.48,25.62 L41.67,25.31 L40.85,25.03 L40.03,24.77 L39.20,24.55 L38.35,24.35 L37.51,24.17 L36.66,24.03 L35.80,23.91 L34.94,23.83 L34.08,23.77 L33.22,23.73 L32.35,23.73 L31.49,23.76 L30.63,23.81 L29.77,23.89 L28.91,24.00 L28.06,24.14 L27.21,24.30 L26.37,24.49 L25.53,24.71 L24.70,24.96 L23.88,25.23 L23.07,25.54 L22.27,25.86 L21.49,26.22 L20.71,26.60 L19.95,27.00 L19.20,27.43 L18.46,27.88 L17.74,28.36 L17.04,28.86 L16.35,29.38 L15.68,29.93 L15.03,30.49 L14.39,31.08 L13.78,31.69 L13.19,32.32 L12.61,32.97 L12.06,33.63 L11.54,34.31 L11.03,35.01 L10.55,35.73 L10.09,36.46 L9.65,37.21 L9.24,37.97 L8.86,38.74 L8.50,39.53 L8.16,40.32 L7.85,41.13 L7.57,41.95 L7.32,42.77 L7.09,43.61 L6.89,44.45 L6.72,45.29 L6.58,46.15 L6.46,47.00 L6.37,47.86 L6.31,48.72 L6.28,49.59 L6.28,50.45 L6.30,51.31 L6.35,52.18 L6.44,53.04 L6.54,53.89 L6.68,54.75 L6.85,55.59 L7.04,56.44 L7.26,57.27 L7.51,58.10 L7.78,58.92 L8.08,59.73 L8.41,60.53 L8.76,61.32 L9.14,62.09 L9.55,62.86 L9.97,63.61 L10.43,64.34 L10.90,65.06 L11.40,65.77 L11.93,66.45 L12.47,67.12 L13.04,67.78 L13.63,68.41 L14.24,69.02Z" fill="none" stroke="#6e70b0" stroke-width="1.1"/>
<path d="M60.08,83.43 L60.68,84.01 L61.30,84.58 L61.94,85.13 L62.59,85.65 L63.26,86.15 L63.94,86.64 L64.65,87.09 L65.36,87.53 L66.09,87.94 L66.83,88.33 L67.59,88.69 L68.36,89.03 L69.13,89.34 L69.92,89.63 L70.72,89.89 L71.52,90.12 L72.33,90.33 L73.15,90.51 L73.97,90.67 L74.80,90.80 L75.63,90.90 L76.47,90.97 L77.30,91.02 L78.14,91.04 L78.98,91.03 L79.81,90.99 L80.65,90.93 L81.48,90.84 L82.31,90.72 L83.14,90.57 L83.96,90.40 L84.77,90.20 L85.58,89.98 L86.38,89.73 L87.17,89.45 L87.95,89.15 L88.72,88.82 L89.48,88.47 L90.23,88.09 L90.96,87.68 L91.68,87.26 L92.39,86.81 L93.08,86.34 L93.76,85.84 L94.42,85.32 L95.06,84.79 L95.68,84.23 L96.29,83.65 L96.87,83.05 L97.44,82.43 L97.99,81.80 L98.51,81.14 L99.01,80.47 L99.49,79.79 L99.95,79.09 L100.39,78.37 L100.80,77.64 L101.19,76.90 L101.55,76.14 L101.89,75.38 L102.20,74.60 L102.49,73.81 L102.75,73.02 L102.98,72.21 L103.19,71.40 L103.37,70.58 L103.53,69.76 L103.66,68.93 L103.76,68.10 L103.83,67.27 L103.88,66.43 L103.90,65.59 L103.89,64.76 L103.85,63.92 L103.79,63.08 L103.70,62.25 L103.58,61.42 L103.43,60.60 L103.26,59.78 L103.06,58.96 L102.84,58.16 L102.59,57.36 L102.31,56.57 L102.01,55.78 L101.68,55.01 L101.32,54.25 L100.95,53.51 L100.54,52.77 L100.12,52.05 L99.67,51.34 L99.20,50.65 L98.70,49.98 L98.18,49.32 L97.65,48.68 L97.09,48.05 L96.51,47.45 L65.52,16.07 L64.92,15.49 L64.30,14.92 L63.66,14.37 L63.01,13.85 L62.34,13.35 L61.66,12.86 L60.95,12.41 L60.24,11.97 L59.51,11.56 L58.77,11.17 L58.01,10.81 L57.24,10.47 L56.47,10.16 L55.68,9.87 L54.88,9.61 L54.08,9.38 L53.27,9.17 L52.45,8.99 L51.63,8.83 L50.80,8.70 L49.97,8.60 L49.13,8.53 L48.30,8.48 L47.46,8.46 L46.62,8.47 L45.79,8.51 L44.95,8.57 L44.12,8.66 L43.29,8.78 L42.46,8.93 L41.64,9.10 L40.83,9.30 L40.02,9.52 L39.22,9.77 L38.43,10.05 L37.65,10.35 L36.88,10.68 L36.12,11.03 L35.37,11.41 L34.64,11.82 L33.92,12.24 L33.21,12.69 L32.52,13.16 L31.84,13.66 L31.18,14.18 L30.54,14.71 L29.92,15.27 L29.31,15.85 L28.73,16.45 L28.16,17.07 L27.61,17.70 L27.09,18.36 L26.59,19.03 L26.11,19.71 L25.65,20.41 L25.21,21.13 L24.80,21.86 L24.41,22.60 L24.05,23.36 L23.71,24.12 L23.40,24.90 L23.11,25.69 L22.85,26.48 L22.62,27.29 L22.41,28.10 L22.23,28.92 L22.07,29.74 L21.94,30.57 L21.84,31.40 L21.77,32.23 L21.72,33.07 L21.70,33.91 L21.71,34.74 L21.75,35.58 L21.81,36.42 L21.90,37.25 L22.02,38.08 L22.17,38.90 L22.34,39.72 L22.54,40.54 L22.76,41.34 L23.01,42.14 L23.29,42.93 L23.59,43.72 L23.92,44.49 L24.28,45.25 L24.65,45.99 L25.06,46.73 L25.48,47.45 L25.93,48.16 L26.40,48.85 L26.90,49.52 L27.42,50.18 L27.95,50.82 L28.51,51.45 L29.09,52.05Z" fill="none" stroke="#d86a5e" stroke-width="1.1"/>
<path d="M96.51,52.05 L97.09,51.45 L97.65,50.82 L98.18,50.18 L98.70,49.52 L99.20,48.85 L99.67,48.16 L100.12,47.45 L100.54,46.73 L100.95,45.99 L101.32,45.25 L101.68,44.49 L102.01,43.72 L102.31,42.93 L102.59,42.14 L102.84,41.34 L103.06,40.54 L103.26,39.72 L103.43,38.90 L103.58,38.08 L103.70,37.25 L103.79,36.42 L103.85,35.58 L103.89,34.74 L103.90,33.91 L103.88,33.07 L103.83,32.23 L103.76,31.40 L103.66,30.57 L103.53,29.74 L103.37,28.92 L103.19,28.10 L102.98,27.29 L102.75,26.48 L102.49,25.69 L102.20,24.90 L101.89,24.12 L101.55,23.36 L101.19,22.60 L100.80,21.86 L100.39,21.13 L99.95,20.41 L99.49,19.71 L99.01,19.03 L98.51,18.36 L97.99,17.70 L97.44,17.07 L96.87,16.45 L96.29,15.85 L95.68,15.27 L95.06,14.71 L94.42,14.18 L93.76,13.66 L93.08,13.16 L92.39,12.69 L91.68,12.24 L90.96,11.82 L90.23,11.41 L89.48,11.03 L88.72,10.68 L87.95,10.35 L87.17,10.05 L86.38,9.77 L85.58,9.52 L84.77,9.30 L83.96,9.10 L83.14,8.93 L82.31,8.78 L81.48,8.66 L80.65,8.57 L79.81,8.51 L78.98,8.47 L78.14,8.46 L77.30,8.48 L76.47,8.53 L75.63,8.60 L74.80,8.70 L73.97,8.83 L73.15,8.99 L72.33,9.17 L71.52,9.38 L70.72,9.61 L69.92,9.87 L69.13,10.16 L68.36,10.47 L67.59,10.81 L66.83,11.17 L66.09,11.56 L65.36,11.97 L64.65,12.41 L63.94,12.86 L63.26,13.35 L62.59,13.85 L61.94,14.37 L61.30,14.92 L60.68,15.49 L60.08,16.07 L29.09,47.45 L28.51,48.05 L27.95,48.68 L27.42,49.32 L26.90,49.98 L26.40,50.65 L25.93,51.34 L25.48,52.05 L25.06,52.77 L24.65,53.51 L24.28,54.25 L23.92,55.01 L23.59,55.78 L23.29,56.57 L23.01,57.36 L22.76,58.16 L22.54,58.96 L22.34,59.78 L22.17,60.60 L22.02,61.42 L21.90,62.25 L21.81,63.08 L21.75,63.92 L21.71,64.76 L21.70,65.59 L21.72,66.43 L21.77,67.27 L21.84,68.10 L21.94,68.93 L22.07,69.76 L22.23,70.58 L22.41,71.40 L22.62,72.21 L22.85,73.02 L23.11,73.81 L23.40,74.60 L23.71,75.38 L24.05,76.14 L24.41,76.90 L24.80,77.64 L25.21,78.37 L25.65,79.09 L26.11,79.79 L26.59,80.47 L27.09,81.14 L27.61,81.80 L28.16,82.43 L28.73,83.05 L29.31,83.65 L29.92,84.23 L30.54,84.79 L31.18,85.32 L31.84,85.84 L32.52,86.34 L33.21,86.81 L33.92,87.26 L34.64,87.68 L35.37,88.09 L36.12,88.47 L36.88,88.82 L37.65,89.15 L38.43,89.45 L39.22,89.73 L40.02,89.98 L40.83,90.20 L41.64,90.40 L42.46,90.57 L43.29,90.72 L44.12,90.84 L44.95,90.93 L45.79,90.99 L46.62,91.03 L47.46,91.04 L48.30,91.02 L49.13,90.97 L49.97,90.90 L50.80,90.80 L51.63,90.67 L52.45,90.51 L53.27,90.33 L54.08,90.12 L54.88,89.89 L55.68,89.63 L56.47,89.34 L57.24,89.03 L58.01,88.69 L58.77,88.33 L59.51,87.94 L60.24,87.53 L60.95,87.09 L61.66,86.64 L62.34,86.15 L63.01,85.65 L63.66,85.13 L64.30,84.58 L64.92,84.01 L65.52,83.43Z" fill="none" stroke="#52a86a" stroke-width="1.1"/>
<path d="M111.36,69.02 L111.97,68.41 L112.56,67.78 L113.13,67.12 L113.67,66.45 L114.20,65.77 L114.70,65.06 L115.17,64.34 L115.63,63.61 L116.05,62.86 L116.46,62.09 L116.84,61.32 L117.19,60.53 L117.52,59.73 L117.82,58.92 L118.09,58.10 L118.34,57.27 L118.56,56.44 L118.75,55.59 L118.92,54.75 L119.06,53.89 L119.16,53.04 L119.25,52.18 L119.30,51.31 L119.32,50.45 L119.32,49.59 L119.29,48.72 L119.23,47.86 L119.14,47.00 L119.02,46.15 L118.88,45.29 L118.71,44.45 L118.51,43.61 L118.28,42.77 L118.03,41.95 L117.75,41.13 L117.44,40.32 L117.10,39.53 L116.74,38.74 L116.36,37.97 L115.95,37.21 L115.51,36.46 L115.05,35.73 L114.57,35.01 L114.06,34.31 L113.54,33.63 L112.99,32.97 L112.41,32.32 L111.82,31.69 L111.21,31.08 L110.57,30.49 L109.92,29.93 L109.25,29.38 L108.56,28.86 L107.86,28.36 L107.14,27.88 L106.40,27.43 L105.65,27.00 L104.89,26.60 L104.11,26.22 L103.33,25.86 L102.53,25.54 L101.72,25.23 L100.90,24.96 L100.07,24.71 L99.23,24.49 L98.39,24.30 L97.54,24.14 L96.69,24.00 L95.83,23.89 L94.97,23.81 L94.11,23.76 L93.25,23.73 L92.38,23.73 L91.52,23.77 L90.66,23.83 L89.80,23.91 L88.94,24.03 L88.09,24.17 L87.25,24.35 L86.40,24.55 L85.57,24.77 L84.75,25.03 L83.93,25.31 L83.12,25.62 L82.32,25.95 L81.54,26.31 L80.77,26.70 L80.01,27.11 L79.26,27.54 L78.53,28.00 L77.81,28.48 L77.11,28.99 L76.43,29.52 L75.76,30.07 L75.12,30.64 L74.49,31.23 L44.36,60.64 L43.75,61.25 L43.16,61.88 L42.59,62.54 L42.05,63.21 L41.52,63.89 L41.02,64.60 L40.55,65.32 L40.09,66.05 L39.67,66.80 L39.26,67.57 L38.88,68.34 L38.53,69.13 L38.20,69.93 L37.90,70.74 L37.63,71.56 L37.38,72.39 L37.16,73.22 L36.97,74.07 L36.80,74.91 L36.66,75.77 L36.56,76.62 L36.47,77.48 L36.42,78.35 L36.40,79.21 L36.40,80.07 L36.43,80.94 L36.49,81.80 L36.58,82.66 L36.70,83.51 L36.84,84.37 L37.01,85.21 L37.21,86.05 L37.44,86.89 L37.69,87.71 L37.97,88.53 L38.28,89.34 L38.62,90.13 L38.98,90.92 L39.36,91.69 L39.77,92.45 L40.21,93.20 L40.67,93.93 L41.15,94.65 L41.66,95.35 L42.18,96.03 L42.73,96.69 L43.31,97.34 L43.90,97.97 L44.51,98.58 L45.15,99.17 L45.80,99.73 L46.47,100.28 L47.16,100.80 L47.86,101.30 L48.58,101.78 L49.32,102.23 L50.07,102.66 L50.83,103.06 L51.61,103.44 L52.39,103.80 L53.19,104.12 L54.00,104.43 L54.82,104.70 L55.65,104.95 L56.49,105.17 L57.33,105.36 L58.18,105.52 L59.03,105.66 L59.89,105.77 L60.75,105.85 L61.61,105.90 L62.47,105.93 L63.34,105.93 L64.20,105.89 L65.06,105.83 L65.92,105.75 L66.78,105.63 L67.63,105.49 L68.47,105.31 L69.32,105.11 L70.15,104.89 L70.97,104.63 L71.79,104.35 L72.60,104.04 L73.40,103.71 L74.18,103.35 L74.95,102.96 L75.71,102.55 L76.46,102.12 L77.19,101.66 L77.91,101.18 L78.61,100.67 L79.29,100.14 L79.96,99.59 L80.60,99.02 L81.23,98.43Z" fill="none" stroke="#d8d080" stroke-width="1.1"/>
<path d="M102.20,24.90 L101.89,24.12 L101.55,23.36 L101.19,22.60 L100.80,21.86 L100.39,21.13 L99.95,20.41 L99.49,19.71 L99.01,19.03 L98.51,18.36 L97.99,17.70 L97.44,17.07 L96.87,16.45 L96.29,15.85 L95.68,15.27 L95.06,14.71 L94.42,14.18 L93.76,13.66 L93.08,13.16 L92.39,12.69 L91.68,12.24 L90.96,11.82 L90.23,11.41 L89.48,11.03 L88.72,10.68 L87.95,10.35 L87.17,10.05 L86.38,9.77 L85.58,9.52 L84.77,9.30 L83.96,9.10 L83.14,8.93 L82.31,8.78 L81.48,8.66 L80.65,8.57 L79.81,8.51 L78.98,8.47 L78.14,8.46 L77.30,8.48 L76.47,8.53 L75.63,8.60 L74.80,8.70 L73.97,8.83 L73.15,8.99 L72.33,9.17 L71.52,9.38 L70.72,9.61 L69.92,9.87 L69.13,10.16 L68.36,10.47 L67.59,10.81 L66.83,11.17 L66.09,11.56 L65.36,11.97 L64.65,12.41 L63.94,12.86 L63.26,13.35 L62.80,13.69 L62.34,13.35 L61.66,12.86 L60.95,12.41 L60.24,11.97 L59.51,11.56 L58.77,11.17 L58.01,10.81 L57.24,10.47 L56.47,10.16 L55.68,9.87 L54.88,9.61 L54.08,9.38 L53.27,9.17 L52.45,8.99 L51.63,8.83 L50.80,8.70 L49.97,8.60 L49.13,8.53 L48.30,8.48 L47.46,8.46 L46.62,8.47 L45.79,8.51 L44.95,8.57 L44.12,8.66 L43.29,8.78 L42.46,8.93 L41.64,9.10 L40.83,9.30 L40.02,9.52 L39.22,9.77 L38.43,10.05 L37.65,10.35 L36.88,10.68 L36.12,11.03 L35.37,11.41 L34.64,11.82 L33.92,12.24 L33.21,12.69 L32.52,13.16 L31.84,13.66 L31.18,14.18 L30.54,14.71 L29.92,15.27 L29.31,15.85 L28.73,16.45 L28.16,17.07 L27.61,17.70 L27.09,18.36 L26.59,19.03 L26.11,19.71 L25.65,20.41 L25.21,21.13 L24.80,21.86 L24.41,22.60 L24.05,23.36 L23.71,24.12 L23.40,24.90 L23.18,25.50 L23.07,25.54 L22.27,25.86 L21.49,26.22 L20.71,26.60 L19.95,27.00 L19.20,27.43 L18.46,27.88 L17.74,28.36 L17.04,28.86 L16.35,29.38 L15.68,29.93 L15.03,30.49 L14.39,31.08 L13.78,31.69 L13.19,32.32 L12.61,32.97 L12.06,33.63 L11.54,34.31 L11.03,35.01 L10.55,35.73 L10.09,36.46 L9.65,37.21 L9.24,37.97 L8.86,38.74 L8.50,39.53 L8.16,40.32 L7.85,41.13 L7.57,41.95 L7.32,42.77 L7.09,43.61 L6.89,44.45 L6.72,45.29 L6.58,46.15 L6.46,47.00 L6.37,47.86 L6.31,48.72 L6.28,49.59 L6.28,50.45 L6.30,51.31 L6.35,52.18 L6.44,53.04 L6.54,53.89 L6.68,54.75 L6.85,55.59 L7.04,56.44 L7.26,57.27 L7.51,58.10 L7.78,58.92 L8.08,59.73 L8.41,60.53 L8.76,61.32 L9.14,62.09 L9.55,62.86 L9.97,63.61 L10.43,64.34 L10.90,65.06 L11.40,65.77 L11.93,66.45 L12.47,67.12 L13.04,67.78 L13.63,68.41 L14.24,69.02 L43.94,98.01 L44.51,98.58 L45.15,99.17 L45.80,99.73 L46.47,100.28 L47.16,100.80 L47.86,101.30 L48.58,101.78 L49.32,102.23 L50.07,102.66 L50.83,103.06 L51.61,103.44 L52.39,103.80 L53.19,104.12 L54.00,104.43 L54.82,104.70 L55.65,104.95 L56.49,105.17 L57.09,105.31 L57.13,105.31 L57.14,105.32 L57.33,105.36 L57.90,105.47 L57.97,105.49 L58.00,105.49 L58.18,105.52 L58.71,105.61 L58.82,105.63 L58.86,105.64 L59.03,105.66 L59.52,105.72 L59.68,105.75 L59.73,105.75 L59.89,105.77 L60.34,105.81 L60.54,105.83 L60.61,105.84 L60.75,105.85 L61.16,105.88 L61.40,105.89 L61.48,105.90 L61.61,105.90 L61.98,105.92 L62.26,105.93 L62.36,105.93 L62.47,105.93 L62.80,105.93 L63.13,105.93 L63.24,105.93 L63.34,105.93 L63.62,105.92 L63.99,105.90 L64.12,105.90 L64.20,105.89 L64.44,105.88 L64.85,105.85 L64.99,105.84 L65.06,105.83 L65.26,105.81 L65.71,105.77 L65.87,105.75 L65.92,105.75 L66.08,105.72 L66.57,105.66 L66.74,105.64 L66.78,105.63 L66.89,105.61 L67.42,105.52 L67.60,105.49 L67.63,105.49 L67.70,105.47 L68.27,105.36 L68.46,105.32 L68.47,105.31 L68.51,105.31 L69.11,105.17 L69.95,104.95 L70.78,104.70 L71.60,104.43 L72.41,104.12 L73.21,103.80 L73.99,103.44 L74.77,103.06 L75.53,102.66 L76.28,102.23 L77.02,101.78 L77.74,101.30 L78.44,100.80 L79.13,100.28 L79.80,99.73 L80.45,99.17 L81.09,98.58 L81.66,98.01 L111.36,69.02 L111.97,68.41 L112.56,67.78 L113.13,67.12 L113.67,66.45 L114.20,65.77 L114.70,65.06 L115.17,64.34 L115.63,63.61 L116.05,62.86 L116.46,62.09 L116.84,61.32 L117.19,60.53 L117.52,59.73 L117.82,58.92 L118.09,58.10 L118.34,57.27 L118.56,56.44 L118.75,55.59 L118.92,54.75 L119.06,53.89 L119.16,53.04 L119.25,52.18 L119.30,51.31 L119.32,50.45 L119.32,49.59 L119.29,48.72 L119.23,47.86 L119.14,47.00 L119.02,46.15 L118.88,45.29 L118.71,44.45 L118.51,43.61 L118.28,42.77 L118.03,41.95 L117.75,41.13 L117.44,40.32 L117.10,39.53 L116.74,38.74 L116.36,37.97 L115.95,37.21 L115.51,36.46 L115.05,35.73 L114.57,35.01 L114.06,34.31 L113.54,33.63 L112.99,32.97 L112.41,32.32 L111.82,31.69 L111.21,31.08 L110.57,30.49 L109.92,29.93 L109.25,29.38 L108.56,28.86 L107.86,28.36 L107.14,27.88 L106.40,27.43 L105.65,27.00 L104.89,26.60 L104.11,26.22 L103.33,25.86 L102.53,25.54 L102.42,25.50Z" fill="#8e8e80"/>
<path d="M57.13,105.31 L57.14,105.32 L57.09,105.31ZM57.97,105.49 L58.00,105.49 L57.90,105.47ZM58.82,105.63 L58.86,105.64 L58.71,105.61ZM59.68,105.75 L59.73,105.75 L59.52,105.72ZM60.54,105.83 L60.61,105.84 L60.34,105.81ZM61.40,105.89 L61.48,105.90 L61.16,105.88ZM62.26,105.93 L62.36,105.93 L61.98,105.92ZM63.13,105.93 L63.24,105.93 L62.80,105.93ZM63.99,105.90 L64.12,105.90 L63.62,105.92ZM64.85,105.85 L64.99,105.84 L64.44,105.88ZM65.71,105.77 L65.87,105.75 L65.26,105.81ZM66.57,105.66 L66.74,105.64 L66.08,105.72ZM67.42,105.52 L67.60,105.49 L66.89,105.61ZM68.27,105.36 L68.46,105.32 L67.70,105.47ZM69.11,105.17 L69.95,104.95 L70.78,104.70 L71.60,104.43 L72.41,104.12 L73.21,103.80 L73.99,103.44 L74.77,103.06 L75.53,102.66 L76.28,102.23 L77.02,101.78 L77.74,101.30 L78.44,100.80 L79.13,100.28 L79.80,99.73 L80.45,99.17 L81.09,98.58 L81.66,98.01 L81.23,98.43 L80.60,99.02 L79.96,99.59 L79.29,100.14 L78.61,100.67 L77.91,101.18 L77.19,101.66 L76.46,102.12 L75.71,102.55 L74.95,102.96 L74.18,103.35 L73.40,103.71 L72.60,104.04 L71.79,104.35 L70.97,104.63 L70.15,104.89 L69.32,105.11 L68.51,105.31ZM23.07,25.54 L22.27,25.86 L21.49,26.22 L20.71,26.60 L19.95,27.00 L19.20,27.43 L18.46,27.88 L17.74,28.36 L17.04,28.86 L16.35,29.38 L15.68,29.93 L15.03,30.49 L14.39,31.08 L13.78,31.69 L13.19,32.32 L12.61,32.97 L12.06,33.63 L11.54,34.31 L11.03,35.01 L10.55,35.73 L10.09,36.46 L9.65,37.21 L9.24,37.97 L8.86,38.74 L8.50,39.53 L8.16,40.32 L7.85,41.13 L7.57,41.95 L7.32,42.77 L7.09,43.61 L6.89,44.45 L6.72,45.29 L6.58,46.15 L6.46,47.00 L6.37,47.86 L6.31,48.72 L6.28,49.59 L6.28,50.45 L6.30,51.31 L6.35,52.18 L6.44,53.04 L6.54,53.89 L6.68,54.75 L6.85,55.59 L7.04,56.44 L7.26,57.27 L7.51,58.10 L7.78,58.92 L8.08,59.73 L8.41,60.53 L8.76,61.32 L9.14,62.09 L9.55,62.86 L9.97,63.61 L10.43,64.34 L10.90,65.06 L11.40,65.77 L11.93,66.45 L12.47,67.12 L13.04,67.78 L13.63,68.41 L14.24,69.02 L43.94,98.01 L43.90,97.97 L43.31,97.34 L42.73,96.69 L42.18,96.03 L41.66,95.35 L41.15,94.65 L40.67,93.93 L40.21,93.20 L39.77,92.45 L39.36,91.69 L38.98,90.92 L38.62,90.13 L38.31,89.40 L37.65,89.15 L36.88,88.82 L36.12,88.47 L35.37,88.09 L34.64,87.68 L33.92,87.26 L33.21,86.81 L32.52,86.34 L31.84,85.84 L31.18,85.32 L30.54,84.79 L29.92,84.23 L29.31,83.65 L28.73,83.05 L28.16,82.43 L27.61,81.80 L27.09,81.14 L26.59,80.47 L26.11,79.79 L25.65,79.09 L25.21,78.37 L24.80,77.64 L24.41,76.90 L24.05,76.14 L23.71,75.38 L23.40,74.60 L23.11,73.81 L22.85,73.02 L22.62,72.21 L22.41,71.40 L22.23,70.58 L22.07,69.76 L21.94,68.93 L21.84,68.10 L21.77,67.27 L21.72,66.43 L21.70,65.59 L21.71,64.76 L21.75,63.92 L21.81,63.08 L21.90,62.25 L22.02,61.42 L22.17,60.60 L22.34,59.78 L22.54,58.96 L22.76,58.16 L23.01,57.36 L23.29,56.57 L23.59,55.78 L23.92,55.01 L24.28,54.25 L24.65,53.51 L25.06,52.77 L25.48,52.05 L25.93,51.34 L26.40,50.65 L26.90,49.98 L27.08,49.75 L26.90,49.52 L26.40,48.85 L25.93,48.16 L25.48,47.45 L25.06,46.73 L24.65,45.99 L24.28,45.25 L23.92,44.49 L23.59,43.72 L23.29,42.93 L23.01,42.14 L22.76,41.34 L22.54,40.54 L22.34,39.72 L22.17,38.90 L22.02,38.08 L21.90,37.25 L21.81,36.42 L21.75,35.58 L21.71,34.74 L21.70,33.91 L21.72,33.07 L21.77,32.23 L21.84,31.40 L21.94,30.57 L22.07,29.74 L22.23,28.92 L22.41,28.10 L22.62,27.29 L22.85,26.48 L23.11,25.69 L23.18,25.50Z" fill="#8b8fcb" stroke="#8b8fcb" stroke-width="0.7" stroke-linejoin="round"/>
<path d="M62.34,13.35 L61.66,12.86 L60.95,12.41 L60.24,11.97 L59.51,11.56 L58.77,11.17 L58.01,10.81 L57.24,10.47 L56.47,10.16 L55.68,9.87 L54.88,9.61 L54.08,9.38 L53.27,9.17 L52.45,8.99 L51.63,8.83 L50.80,8.70 L49.97,8.60 L49.13,8.53 L48.30,8.48 L47.46,8.46 L46.62,8.47 L45.79,8.51 L44.95,8.57 L44.12,8.66 L43.29,8.78 L42.46,8.93 L41.64,9.10 L40.83,9.30 L40.02,9.52 L39.22,9.77 L38.43,10.05 L37.65,10.35 L36.88,10.68 L36.12,11.03 L35.37,11.41 L34.64,11.82 L33.92,12.24 L33.21,12.69 L32.52,13.16 L31.84,13.66 L31.18,14.18 L30.54,14.71 L29.92,15.27 L29.31,15.85 L28.73,16.45 L28.16,17.07 L27.61,17.70 L27.09,18.36 L26.59,19.03 L26.11,19.71 L25.65,20.41 L25.21,21.13 L24.80,21.86 L24.41,22.60 L24.05,23.36 L23.71,24.12 L23.40,24.90 L23.18,25.50 L23.88,25.23 L24.70,24.96 L25.53,24.71 L26.37,24.49 L27.21,24.30 L28.06,24.14 L28.91,24.00 L29.77,23.89 L30.63,23.81 L31.49,23.76 L32.35,23.73 L33.22,23.73 L34.08,23.77 L34.94,23.83 L35.80,23.91 L36.66,24.03 L37.51,24.17 L38.35,24.35 L39.20,24.55 L40.03,24.77 L40.85,25.03 L41.67,25.31 L42.48,25.62 L43.28,25.95 L44.06,26.31 L44.83,26.70 L45.59,27.11 L46.34,27.54 L47.07,28.00 L47.79,28.48 L47.81,28.50 L60.08,16.07 L60.68,15.49 L61.30,14.92 L61.94,14.37 L62.59,13.85 L62.80,13.69Z" fill="#f38e7e" stroke="#f38e7e" stroke-width="0.7" stroke-linejoin="round"/>
<path d="M102.20,24.90 L101.89,24.12 L101.55,23.36 L101.19,22.60 L100.80,21.86 L100.39,21.13 L99.95,20.41 L99.49,19.71 L99.01,19.03 L98.51,18.36 L97.99,17.70 L97.44,17.07 L96.87,16.45 L96.29,15.85 L95.68,15.27 L95.06,14.71 L94.42,14.18 L93.76,13.66 L93.08,13.16 L92.39,12.69 L91.68,12.24 L90.96,11.82 L90.23,11.41 L89.48,11.03 L88.72,10.68 L87.95,10.35 L87.17,10.05 L86.38,9.77 L85.58,9.52 L84.77,9.30 L83.96,9.10 L83.14,8.93 L82.31,8.78 L81.48,8.66 L80.65,8.57 L79.81,8.51 L78.98,8.47 L78.14,8.46 L77.30,8.48 L76.47,8.53 L75.63,8.60 L74.80,8.70 L73.97,8.83 L73.15,8.99 L72.33,9.17 L71.52,9.38 L70.72,9.61 L69.92,9.87 L69.13,10.16 L68.36,10.47 L67.59,10.81 L66.83,11.17 L66.09,11.56 L65.36,11.97 L64.65,12.41 L63.94,12.86 L63.26,13.35 L62.80,13.69 L63.01,13.85 L63.66,14.37 L64.30,14.92 L64.92,15.49 L65.52,16.07 L77.79,28.50 L77.81,28.48 L78.53,28.00 L79.26,27.54 L80.01,27.11 L80.77,26.70 L81.54,26.31 L82.32,25.95 L83.12,25.62 L83.93,25.31 L84.75,25.03 L85.57,24.77 L86.40,24.55 L87.25,24.35 L88.09,24.17 L88.94,24.03 L89.80,23.91 L90.66,23.83 L91.52,23.77 L92.38,23.73 L93.25,23.73 L94.11,23.76 L94.97,23.81 L95.83,23.89 L96.69,24.00 L97.54,24.14 L98.39,24.30 L99.23,24.49 L100.07,24.71 L100.90,24.96 L101.72,25.23 L102.42,25.50Z" fill="#82c996" stroke="#82c996" stroke-width="0.7" stroke-linejoin="round"/>
<path d="M111.97,68.41 L112.56,67.78 L113.13,67.12 L113.67,66.45 L114.20,65.77 L114.70,65.06 L115.17,64.34 L115.63,63.61 L116.05,62.86 L116.46,62.09 L116.84,61.32 L117.19,60.53 L117.52,59.73 L117.82,58.92 L118.09,58.10 L118.34,57.27 L118.56,56.44 L118.75,55.59 L118.92,54.75 L119.06,53.89 L119.16,53.04 L119.25,52.18 L119.30,51.31 L119.32,50.45 L119.32,49.59 L119.29,48.72 L119.23,47.86 L119.14,47.00 L119.02,46.15 L118.88,45.29 L118.71,44.45 L118.51,43.61 L118.28,42.77 L118.03,41.95 L117.75,41.13 L117.44,40.32 L117.10,39.53 L116.74,38.74 L116.36,37.97 L115.95,37.21 L115.51,36.46 L115.05,35.73 L114.57,35.01 L114.06,34.31 L113.54,33.63 L112.99,32.97 L112.41,32.32 L111.82,31.69 L111.21,31.08 L110.57,30.49 L109.92,29.93 L109.25,29.38 L108.56,28.86 L107.86,28.36 L107.14,27.88 L106.40,27.43 L105.65,27.00 L104.89,26.60 L104.11,26.22 L103.33,25.86 L102.53,25.54 L102.42,25.50 L102.49,25.69 L102.75,26.48 L102.98,27.29 L103.19,28.10 L103.37,28.92 L103.53,29.74 L103.66,30.57 L103.76,31.40 L103.83,32.23 L103.88,33.07 L103.90,33.91 L103.89,34.74 L103.85,35.58 L103.79,36.42 L103.70,37.25 L103.58,38.08 L103.43,38.90 L103.26,39.72 L103.06,40.54 L102.84,41.34 L102.59,42.14 L102.31,42.93 L102.01,43.72 L101.68,44.49 L101.32,45.25 L100.95,45.99 L100.54,46.73 L100.12,47.45 L99.67,48.16 L99.20,48.85 L98.70,49.52 L98.52,49.75 L98.70,49.98 L99.20,50.65 L99.67,51.34 L100.12,52.05 L100.54,52.77 L100.95,53.51 L101.32,54.25 L101.68,55.01 L102.01,55.78 L102.31,56.57 L102.59,57.36 L102.84,58.16 L103.06,58.96 L103.26,59.78 L103.43,60.60 L103.58,61.42 L103.70,62.25 L103.79,63.08 L103.85,63.92 L103.89,64.76 L103.90,65.59 L103.88,66.43 L103.83,67.27 L103.76,68.10 L103.66,68.93 L103.53,69.76 L103.37,70.58 L103.19,71.40 L102.98,72.21 L102.75,73.02 L102.49,73.81 L102.20,74.60 L101.89,75.38 L101.55,76.14 L101.19,76.90 L100.80,77.64 L100.39,78.37 L99.95,79.09 L99.49,79.79 L99.01,80.47 L98.51,81.14 L97.99,81.80 L97.44,82.43 L96.87,83.05 L96.29,83.65 L95.68,84.23 L95.06,84.79 L94.42,85.32 L93.76,85.84 L93.08,86.34 L92.39,86.81 L91.68,87.26 L90.96,87.68 L90.23,88.09 L89.48,88.47 L88.72,88.82 L87.95,89.15 L87.29,89.40 L86.98,90.13 L86.62,90.92 L86.24,91.69 L85.83,92.45 L85.39,93.20 L84.93,93.93 L84.45,94.65 L83.94,95.35 L83.42,96.03 L82.87,96.69 L82.29,97.34 L81.70,97.97 L81.66,98.01 L111.36,69.02ZM44.51,98.58 L45.15,99.17 L45.80,99.73 L46.47,100.28 L47.16,100.80 L47.86,101.30 L48.58,101.78 L49.32,102.23 L50.07,102.66 L50.83,103.06 L51.61,103.44 L52.39,103.80 L53.19,104.12 L54.00,104.43 L54.82,104.70 L55.65,104.95 L56.49,105.17 L57.09,105.31 L56.28,105.11 L55.45,104.89 L54.63,104.63 L53.81,104.35 L53.00,104.04 L52.20,103.71 L51.42,103.35 L50.65,102.96 L49.89,102.55 L49.14,102.12 L48.41,101.66 L47.69,101.18 L46.99,100.67 L46.31,100.14 L45.64,99.59 L45.00,99.02 L44.37,98.43 L43.94,98.01ZM57.33,105.36 L57.90,105.47 L57.14,105.32ZM58.18,105.52 L58.71,105.61 L58.00,105.49ZM59.03,105.66 L59.52,105.72 L58.86,105.64ZM59.89,105.77 L60.34,105.81 L59.73,105.75ZM60.75,105.85 L61.16,105.88 L60.61,105.84ZM61.61,105.90 L61.98,105.92 L61.48,105.90ZM62.47,105.93 L62.80,105.93 L62.36,105.93ZM63.34,105.93 L63.62,105.92 L63.24,105.93ZM64.20,105.89 L64.44,105.88 L64.12,105.90ZM65.06,105.83 L65.26,105.81 L64.99,105.84ZM65.92,105.75 L66.08,105.72 L65.87,105.75ZM66.78,105.63 L66.89,105.61 L66.74,105.64ZM67.63,105.49 L67.70,105.47 L67.60,105.49ZM68.47,105.31 L68.51,105.31 L68.46,105.32Z" fill="#efe99e" stroke="#efe99e" stroke-width="0.7" stroke-linejoin="round"/>
<path d="M47.79,28.48 L47.07,28.00 L46.34,27.54 L45.59,27.11 L44.83,26.70 L44.06,26.31 L43.28,25.95 L42.48,25.62 L41.67,25.31 L40.85,25.03 L40.03,24.77 L39.20,24.55 L38.35,24.35 L37.51,24.17 L36.66,24.03 L35.80,23.91 L34.94,23.83 L34.08,23.77 L33.22,23.73 L32.35,23.73 L31.49,23.76 L30.63,23.81 L29.77,23.89 L28.91,24.00 L28.06,24.14 L27.21,24.30 L26.37,24.49 L25.53,24.71 L24.70,24.96 L23.88,25.23 L23.18,25.50 L23.11,25.69 L22.85,26.48 L22.62,27.29 L22.41,28.10 L22.23,28.92 L22.07,29.74 L21.94,30.57 L21.84,31.40 L21.77,32.23 L21.72,33.07 L21.70,33.91 L21.71,34.74 L21.75,35.58 L21.81,36.42 L21.90,37.25 L22.02,38.08 L22.17,38.90 L22.34,39.72 L22.54,40.54 L22.76,41.34 L23.01,42.14 L23.29,42.93 L23.59,43.72 L23.92,44.49 L24.28,45.25 L24.65,45.99 L25.06,46.73 L25.48,47.45 L25.93,48.16 L26.40,48.85 L26.90,49.52 L27.08,49.75 L27.42,49.32 L27.95,48.68 L28.51,48.05 L29.09,47.45 L47.81,28.50Z" fill="#d8607a" stroke="#d8607a" stroke-width="0.7" stroke-linejoin="round"/>
<path d="M26.90,49.98 L26.40,50.65 L25.93,51.34 L25.48,52.05 L25.06,52.77 L24.65,53.51 L24.28,54.25 L23.92,55.01 L23.59,55.78 L23.29,56.57 L23.01,57.36 L22.76,58.16 L22.54,58.96 L22.34,59.78 L22.17,60.60 L22.02,61.42 L21.90,62.25 L21.81,63.08 L21.75,63.92 L21.71,64.76 L21.70,65.59 L21.72,66.43 L21.77,67.27 L21.84,68.10 L21.94,68.93 L22.07,69.76 L22.23,70.58 L22.41,71.40 L22.62,72.21 L22.85,73.02 L23.11,73.81 L23.40,74.60 L23.71,75.38 L24.05,76.14 L24.41,76.90 L24.80,77.64 L25.21,78.37 L25.65,79.09 L26.11,79.79 L26.59,80.47 L27.09,81.14 L27.61,81.80 L28.16,82.43 L28.73,83.05 L29.31,83.65 L29.92,84.23 L30.54,84.79 L31.18,85.32 L31.84,85.84 L32.52,86.34 L33.21,86.81 L33.92,87.26 L34.64,87.68 L35.37,88.09 L36.12,88.47 L36.88,88.82 L37.65,89.15 L38.31,89.40 L38.28,89.34 L37.97,88.53 L37.69,87.71 L37.44,86.89 L37.21,86.05 L37.01,85.21 L36.84,84.37 L36.70,83.51 L36.58,82.66 L36.49,81.80 L36.43,80.94 L36.40,80.07 L36.40,79.21 L36.42,78.35 L36.47,77.48 L36.56,76.62 L36.66,75.77 L36.80,74.91 L36.97,74.07 L37.16,73.22 L37.38,72.39 L37.63,71.56 L37.90,70.74 L38.20,69.93 L38.53,69.13 L38.88,68.34 L39.26,67.57 L39.67,66.80 L40.09,66.05 L40.55,65.32 L41.02,64.60 L41.22,64.33 L29.09,52.05 L28.51,51.45 L27.95,50.82 L27.42,50.18 L27.08,49.75Z" fill="#3aa68a" stroke="#3aa68a" stroke-width="0.7" stroke-linejoin="round"/>
<path d="M45.64,99.59 L46.31,100.14 L46.99,100.67 L47.69,101.18 L48.41,101.66 L49.14,102.12 L49.89,102.55 L50.65,102.96 L51.42,103.35 L52.20,103.71 L53.00,104.04 L53.81,104.35 L54.63,104.63 L55.45,104.89 L56.28,105.11 L57.09,105.31 L57.14,105.32 L57.90,105.47 L58.00,105.49 L58.71,105.61 L58.86,105.64 L59.52,105.72 L59.73,105.75 L60.34,105.81 L60.61,105.84 L61.16,105.88 L61.48,105.90 L61.98,105.92 L62.36,105.93 L62.80,105.93 L63.24,105.93 L63.62,105.92 L64.12,105.90 L64.44,105.88 L64.99,105.84 L65.26,105.81 L65.87,105.75 L66.08,105.72 L66.74,105.64 L66.89,105.61 L67.60,105.49 L67.70,105.47 L68.46,105.32 L68.51,105.31 L69.32,105.11 L70.15,104.89 L70.97,104.63 L71.79,104.35 L72.60,104.04 L73.40,103.71 L74.18,103.35 L74.95,102.96 L75.71,102.55 L76.46,102.12 L77.19,101.66 L77.91,101.18 L78.61,100.67 L79.29,100.14 L79.96,99.59 L80.60,99.02 L81.23,98.43 L81.66,98.01 L81.70,97.97 L82.29,97.34 L82.87,96.69 L83.42,96.03 L83.94,95.35 L84.45,94.65 L84.93,93.93 L85.39,93.20 L85.83,92.45 L86.24,91.69 L86.62,90.92 L86.98,90.13 L87.29,89.40 L87.17,89.45 L86.38,89.73 L85.58,89.98 L84.77,90.20 L83.96,90.40 L83.14,90.57 L82.31,90.72 L81.48,90.84 L80.65,90.93 L79.81,90.99 L78.98,91.03 L78.14,91.04 L77.30,91.02 L76.47,90.97 L75.63,90.90 L74.80,90.80 L73.97,90.67 L73.15,90.51 L72.33,90.33 L71.52,90.12 L70.72,89.89 L69.92,89.63 L69.13,89.34 L68.36,89.03 L67.59,88.69 L66.83,88.33 L66.09,87.94 L65.36,87.53 L64.65,87.09 L63.94,86.64 L63.26,86.15 L62.80,85.81 L62.34,86.15 L61.66,86.64 L60.95,87.09 L60.24,87.53 L59.51,87.94 L58.77,88.33 L58.01,88.69 L57.24,89.03 L56.47,89.34 L55.68,89.63 L54.88,89.89 L54.08,90.12 L53.27,90.33 L52.45,90.51 L51.63,90.67 L50.80,90.80 L49.97,90.90 L49.13,90.97 L48.30,91.02 L47.46,91.04 L46.62,91.03 L45.79,90.99 L44.95,90.93 L44.12,90.84 L43.29,90.72 L42.46,90.57 L41.64,90.40 L40.83,90.20 L40.02,89.98 L39.22,89.73 L38.43,89.45 L38.31,89.40 L38.62,90.13 L38.98,90.92 L39.36,91.69 L39.77,92.45 L40.21,93.20 L40.67,93.93 L41.15,94.65 L41.66,95.35 L42.18,96.03 L42.73,96.69 L43.31,97.34 L43.90,97.97 L43.94,98.01 L44.37,98.43 L45.00,99.02Z" fill="#8b8fcb" stroke="#8b8fcb" stroke-width="0.7" stroke-linejoin="round"/>
<path d="M65.52,16.07 L64.92,15.49 L64.30,14.92 L63.66,14.37 L63.01,13.85 L62.80,13.69 L62.59,13.85 L61.94,14.37 L61.30,14.92 L60.68,15.49 L60.08,16.07 L47.81,28.50 L48.49,28.99 L49.17,29.52 L49.84,30.07 L50.48,30.64 L51.11,31.23 L62.80,42.64 L74.49,31.23 L75.12,30.64 L75.76,30.07 L76.43,29.52 L77.11,28.99 L77.79,28.50Z" fill="#a8a060" stroke="#a8a060" stroke-width="0.7" stroke-linejoin="round"/>
<path d="M87.95,89.15 L88.72,88.82 L89.48,88.47 L90.23,88.09 L90.96,87.68 L91.68,87.26 L92.39,86.81 L93.08,86.34 L93.76,85.84 L94.42,85.32 L95.06,84.79 L95.68,84.23 L96.29,83.65 L96.87,83.05 L97.44,82.43 L97.99,81.80 L98.51,81.14 L99.01,80.47 L99.49,79.79 L99.95,79.09 L100.39,78.37 L100.80,77.64 L101.19,76.90 L101.55,76.14 L101.89,75.38 L102.20,74.60 L102.49,73.81 L102.75,73.02 L102.98,72.21 L103.19,71.40 L103.37,70.58 L103.53,69.76 L103.66,68.93 L103.76,68.10 L103.83,67.27 L103.88,66.43 L103.90,65.59 L103.89,64.76 L103.85,63.92 L103.79,63.08 L103.70,62.25 L103.58,61.42 L103.43,60.60 L103.26,59.78 L103.06,58.96 L102.84,58.16 L102.59,57.36 L102.31,56.57 L102.01,55.78 L101.68,55.01 L101.32,54.25 L100.95,53.51 L100.54,52.77 L100.12,52.05 L99.67,51.34 L99.20,50.65 L98.70,49.98 L98.52,49.75 L98.18,50.18 L97.65,50.82 L97.09,51.45 L96.51,52.05 L84.38,64.33 L84.58,64.60 L85.05,65.32 L85.51,66.05 L85.93,66.80 L86.34,67.57 L86.72,68.34 L87.07,69.13 L87.40,69.93 L87.70,70.74 L87.97,71.56 L88.22,72.39 L88.44,73.22 L88.63,74.07 L88.80,74.91 L88.94,75.77 L89.04,76.62 L89.13,77.48 L89.18,78.35 L89.20,79.21 L89.20,80.07 L89.17,80.94 L89.11,81.80 L89.02,82.66 L88.90,83.51 L88.76,84.37 L88.59,85.21 L88.39,86.05 L88.16,86.89 L87.91,87.71 L87.63,88.53 L87.32,89.34 L87.29,89.40Z" fill="#f08a50" stroke="#f08a50" stroke-width="0.7" stroke-linejoin="round"/>
<path d="M98.70,49.52 L99.20,48.85 L99.67,48.16 L100.12,47.45 L100.54,46.73 L100.95,45.99 L101.32,45.25 L101.68,44.49 L102.01,43.72 L102.31,42.93 L102.59,42.14 L102.84,41.34 L103.06,40.54 L103.26,39.72 L103.43,38.90 L103.58,38.08 L103.70,37.25 L103.79,36.42 L103.85,35.58 L103.89,34.74 L103.90,33.91 L103.88,33.07 L103.83,32.23 L103.76,31.40 L103.66,30.57 L103.53,29.74 L103.37,28.92 L103.19,28.10 L102.98,27.29 L102.75,26.48 L102.49,25.69 L102.42,25.50 L101.72,25.23 L100.90,24.96 L100.07,24.71 L99.23,24.49 L98.39,24.30 L97.54,24.14 L96.69,24.00 L95.83,23.89 L94.97,23.81 L94.11,23.76 L93.25,23.73 L92.38,23.73 L91.52,23.77 L90.66,23.83 L89.80,23.91 L88.94,24.03 L88.09,24.17 L87.25,24.35 L86.40,24.55 L85.57,24.77 L84.75,25.03 L83.93,25.31 L83.12,25.62 L82.32,25.95 L81.54,26.31 L80.77,26.70 L80.01,27.11 L79.26,27.54 L78.53,28.00 L77.81,28.48 L77.79,28.50 L96.51,47.45 L97.09,48.05 L97.65,48.68 L98.18,49.32 L98.52,49.75Z" fill="#8ec676" stroke="#8ec676" stroke-width="0.7" stroke-linejoin="round"/>
<path d="M51.11,31.23 L50.48,30.64 L49.84,30.07 L49.17,29.52 L48.49,28.99 L47.81,28.50 L29.09,47.45 L28.51,48.05 L27.95,48.68 L27.42,49.32 L27.08,49.75 L27.42,50.18 L27.95,50.82 L28.51,51.45 L29.09,52.05 L41.22,64.33 L41.52,63.89 L42.05,63.21 L42.59,62.54 L43.16,61.88 L43.75,61.25 L44.36,60.64 L62.80,42.64Z" fill="#8e8e5e" stroke="#8e8e5e" stroke-width="0.7" stroke-linejoin="round"/>
<path d="M87.91,87.71 L88.16,86.89 L88.39,86.05 L88.59,85.21 L88.76,84.37 L88.90,83.51 L89.02,82.66 L89.11,81.80 L89.17,80.94 L89.20,80.07 L89.20,79.21 L89.18,78.35 L89.13,77.48 L89.04,76.62 L88.94,75.77 L88.80,74.91 L88.63,74.07 L88.44,73.22 L88.22,72.39 L87.97,71.56 L87.70,70.74 L87.40,69.93 L87.07,69.13 L86.72,68.34 L86.34,67.57 L85.93,66.80 L85.51,66.05 L85.05,65.32 L84.58,64.60 L84.38,64.33 L65.52,83.43 L64.92,84.01 L64.30,84.58 L63.66,85.13 L63.01,85.65 L62.80,85.81 L63.26,86.15 L63.94,86.64 L64.65,87.09 L65.36,87.53 L66.09,87.94 L66.83,88.33 L67.59,88.69 L68.36,89.03 L69.13,89.34 L69.92,89.63 L70.72,89.89 L71.52,90.12 L72.33,90.33 L73.15,90.51 L73.97,90.67 L74.80,90.80 L75.63,90.90 L76.47,90.97 L77.30,91.02 L78.14,91.04 L78.98,91.03 L79.81,90.99 L80.65,90.93 L81.48,90.84 L82.31,90.72 L83.14,90.57 L83.96,90.40 L84.77,90.20 L85.58,89.98 L86.38,89.73 L87.17,89.45 L87.29,89.40 L87.32,89.34 L87.63,88.53Z" fill="#d86464" stroke="#d86464" stroke-width="0.7" stroke-linejoin="round"/>
<path d="M41.02,64.60 L40.55,65.32 L40.09,66.05 L39.67,66.80 L39.26,67.57 L38.88,68.34 L38.53,69.13 L38.20,69.93 L37.90,70.74 L37.63,71.56 L37.38,72.39 L37.16,73.22 L36.97,74.07 L36.80,74.91 L36.66,75.77 L36.56,76.62 L36.47,77.48 L36.42,78.35 L36.40,79.21 L36.40,80.07 L36.43,80.94 L36.49,81.80 L36.58,82.66 L36.70,83.51 L36.84,84.37 L37.01,85.21 L37.21,86.05 L37.44,86.89 L37.69,87.71 L37.97,88.53 L38.28,89.34 L38.31,89.40 L38.43,89.45 L39.22,89.73 L40.02,89.98 L40.83,90.20 L41.64,90.40 L42.46,90.57 L43.29,90.72 L44.12,90.84 L44.95,90.93 L45.79,90.99 L46.62,91.03 L47.46,91.04 L48.30,91.02 L49.13,90.97 L49.97,90.90 L50.80,90.80 L51.63,90.67 L52.45,90.51 L53.27,90.33 L54.08,90.12 L54.88,89.89 L55.68,89.63 L56.47,89.34 L57.24,89.03 L58.01,88.69 L58.77,88.33 L59.51,87.94 L60.24,87.53 L60.95,87.09 L61.66,86.64 L62.34,86.15 L62.80,85.81 L62.59,85.65 L61.94,85.13 L61.30,84.58 L60.68,84.01 L60.08,83.43 L41.22,64.33Z" fill="#3aa68a" stroke="#3aa68a" stroke-width="0.7" stroke-linejoin="round"/>
<path d="M96.51,52.05 L97.09,51.45 L97.65,50.82 L98.18,50.18 L98.52,49.75 L98.18,49.32 L97.65,48.68 L97.09,48.05 L96.51,47.45 L77.79,28.50 L77.11,28.99 L76.43,29.52 L75.76,30.07 L75.12,30.64 L74.49,31.23 L62.80,42.64 L81.24,60.64 L81.85,61.25 L82.44,61.88 L83.01,62.54 L83.55,63.21 L84.08,63.89 L84.38,64.33Z" fill="#a2a04c" stroke="#a2a04c" stroke-width="0.7" stroke-linejoin="round"/>
<path d="M83.55,63.21 L83.01,62.54 L82.44,61.88 L81.85,61.25 L81.24,60.64 L62.80,42.64 L44.36,60.64 L43.75,61.25 L43.16,61.88 L42.59,62.54 L42.05,63.21 L41.52,63.89 L41.22,64.33 L60.08,83.43 L60.68,84.01 L61.30,84.58 L61.94,85.13 L62.59,85.65 L62.80,85.81 L63.01,85.65 L63.66,85.13 L64.30,84.58 L64.92,84.01 L65.52,83.43 L84.38,64.33 L84.08,63.89Z" fill="#8f8d5c" stroke="#8f8d5c" stroke-width="0.7" stroke-linejoin="round"/>
<path d="M44.37,98.43 L45.00,99.02 L45.64,99.59 L46.31,100.14 L46.99,100.67 L47.69,101.18 L48.41,101.66 L49.14,102.12 L49.89,102.55 L50.65,102.96 L51.42,103.35 L52.20,103.71 L53.00,104.04 L53.81,104.35 L54.63,104.63 L55.45,104.89 L56.28,105.11 L57.13,105.31 L57.97,105.49 L58.82,105.63 L59.68,105.75 L60.54,105.83 L61.40,105.89 L62.26,105.93 L63.13,105.93 L63.99,105.90 L64.85,105.85 L65.71,105.77 L66.57,105.66 L67.42,105.52 L68.27,105.36 L69.11,105.17 L69.95,104.95 L70.78,104.70 L71.60,104.43 L72.41,104.12 L73.21,103.80 L73.99,103.44 L74.77,103.06 L75.53,102.66 L76.28,102.23 L77.02,101.78 L77.74,101.30 L78.44,100.80 L79.13,100.28 L79.80,99.73 L80.45,99.17 L81.09,98.58 L81.70,97.97 L82.29,97.34 L82.87,96.69 L83.42,96.03 L83.94,95.35 L84.45,94.65 L84.93,93.93 L85.39,93.20 L85.83,92.45 L86.24,91.69 L86.62,90.92 L86.98,90.13 L87.32,89.34 L87.63,88.53 L87.91,87.71 L88.16,86.89 L88.39,86.05 L88.59,85.21 L88.76,84.37 L88.90,83.51 L89.02,82.66 L89.11,81.80 L89.17,80.94 L89.20,80.07 L89.20,79.21 L89.18,78.35 L89.13,77.48 L89.04,76.62 L88.94,75.77 L88.80,74.91 L88.63,74.07 L88.44,73.22 L88.22,72.39 L87.97,71.56 L87.70,70.74 L87.40,69.93 L87.07,69.13 L86.72,68.34 L86.34,67.57 L85.93,66.80 L85.51,66.05 L85.05,65.32 L84.58,64.60 L84.08,63.89 L83.55,63.21 L83.01,62.54 L82.44,61.88 L81.85,61.25 L81.24,60.64 L51.11,31.23 L50.48,30.64 L49.84,30.07 L49.17,29.52 L48.49,28.99 L47.79,28.48 L47.07,28.00 L46.34,27.54 L45.59,27.11 L44.83,26.70 L44.06,26.31 L43.28,25.95 L42.48,25.62 L41.67,25.31 L40.85,25.03 L40.03,24.77 L39.20,24.55 L38.35,24.35 L37.51,24.17 L36.66,24.03 L35.80,23.91 L34.94,23.83 L34.08,23.77 L33.22,23.73 L32.35,23.73 L31.49,23.76 L30.63,23.81 L29.77,23.89 L28.91,24.00 L28.06,24.14 L27.21,24.30 L26.37,24.49 L25.53,24.71 L24.70,24.96 L23.88,25.23 L23.07,25.54 L22.27,25.86 L21.49,26.22 L20.71,26.60 L19.95,27.00 L19.20,27.43 L18.46,27.88 L17.74,28.36 L17.04,28.86 L16.35,29.38 L15.68,29.93 L15.03,30.49 L14.39,31.08 L13.78,31.69 L13.19,32.32 L12.61,32.97 L12.06,33.63 L11.54,34.31 L11.03,35.01 L10.55,35.73 L10.09,36.46 L9.65,37.21 L9.24,37.97 L8.86,38.74 L8.50,39.53 L8.16,40.32 L7.85,41.13 L7.57,41.95 L7.32,42.77 L7.09,43.61 L6.89,44.45 L6.72,45.29 L6.58,46.15 L6.46,47.00 L6.37,47.86 L6.31,48.72 L6.28,49.59 L6.28,50.45 L6.30,51.31 L6.35,52.18 L6.44,53.04 L6.54,53.89 L6.68,54.75 L6.85,55.59 L7.04,56.44 L7.26,57.27 L7.51,58.10 L7.78,58.92 L8.08,59.73 L8.41,60.53 L8.76,61.32 L9.14,62.09 L9.55,62.86 L9.97,63.61 L10.43,64.34 L10.90,65.06 L11.40,65.77 L11.93,66.45 L12.47,67.12 L13.04,67.78 L13.63,68.41 L14.24,69.02Z" fill="none" stroke="#6e70b0" stroke-width="0.6" stroke-opacity="0.4"/>
<path d="M60.08,83.43 L60.68,84.01 L61.30,84.58 L61.94,85.13 L62.59,85.65 L63.26,86.15 L63.94,86.64 L64.65,87.09 L65.36,87.53 L66.09,87.94 L66.83,88.33 L67.59,88.69 L68.36,89.03 L69.13,89.34 L69.92,89.63 L70.72,89.89 L71.52,90.12 L72.33,90.33 L73.15,90.51 L73.97,90.67 L74.80,90.80 L75.63,90.90 L76.47,90.97 L77.30,91.02 L78.14,91.04 L78.98,91.03 L79.81,90.99 L80.65,90.93 L81.48,90.84 L82.31,90.72 L83.14,90.57 L83.96,90.40 L84.77,90.20 L85.58,89.98 L86.38,89.73 L87.17,89.45 L87.95,89.15 L88.72,88.82 L89.48,88.47 L90.23,88.09 L90.96,87.68 L91.68,87.26 L92.39,86.81 L93.08,86.34 L93.76,85.84 L94.42,85.32 L95.06,84.79 L95.68,84.23 L96.29,83.65 L96.87,83.05 L97.44,82.43 L97.99,81.80 L98.51,81.14 L99.01,80.47 L99.49,79.79 L99.95,79.09 L100.39,78.37 L100.80,77.64 L101.19,76.90 L101.55,76.14 L101.89,75.38 L102.20,74.60 L102.49,73.81 L102.75,73.02 L102.98,72.21 L103.19,71.40 L103.37,70.58 L103.53,69.76 L103.66,68.93 L103.76,68.10 L103.83,67.27 L103.88,66.43 L103.90,65.59 L103.89,64.76 L103.85,63.92 L103.79,63.08 L103.70,62.25 L103.58,61.42 L103.43,60.60 L103.26,59.78 L103.06,58.96 L102.84,58.16 L102.59,57.36 L102.31,56.57 L102.01,55.78 L101.68,55.01 L101.32,54.25 L100.95,53.51 L100.54,52.77 L100.12,52.05 L99.67,51.34 L99.20,50.65 L98.70,49.98 L98.18,49.32 L97.65,48.68 L97.09,48.05 L96.51,47.45 L65.52,16.07 L64.92,15.49 L64.30,14.92 L63.66,14.37 L63.01,13.85 L62.34,13.35 L61.66,12.86 L60.95,12.41 L60.24,11.97 L59.51,11.56 L58.77,11.17 L58.01,10.81 L57.24,10.47 L56.47,10.16 L55.68,9.87 L54.88,9.61 L54.08,9.38 L53.27,9.17 L52.45,8.99 L51.63,8.83 L50.80,8.70 L49.97,8.60 L49.13,8.53 L48.30,8.48 L47.46,8.46 L46.62,8.47 L45.79,8.51 L44.95,8.57 L44.12,8.66 L43.29,8.78 L42.46,8.93 L41.64,9.10 L40.83,9.30 L40.02,9.52 L39.22,9.77 L38.43,10.05 L37.65,10.35 L36.88,10.68 L36.12,11.03 L35.37,11.41 L34.64,11.82 L33.92,12.24 L33.21,12.69 L32.52,13.16 L31.84,13.66 L31.18,14.18 L30.54,14.71 L29.92,15.27 L29.31,15.85 L28.73,16.45 L28.16,17.07 L27.61,17.70 L27.09,18.36 L26.59,19.03 L26.11,19.71 L25.65,20.41 L25.21,21.13 L24.80,21.86 L24.41,22.60 L24.05,23.36 L23.71,24.12 L23.40,24.90 L23.11,25.69 L22.85,26.48 L22.62,27.29 L22.41,28.10 L22.23,28.92 L22.07,29.74 L21.94,30.57 L21.84,31.40 L21.77,32.23 L21.72,33.07 L21.70,33.91 L21.71,34.74 L21.75,35.58 L21.81,36.42 L21.90,37.25 L22.02,38.08 L22.17,38.90 L22.34,39.72 L22.54,40.54 L22.76,41.34 L23.01,42.14 L23.29,42.93 L23.59,43.72 L23.92,44.49 L24.28,45.25 L24.65,45.99 L25.06,46.73 L25.48,47.45 L25.93,48.16 L26.40,48.85 L26.90,49.52 L27.42,50.18 L27.95,50.82 L28.51,51.45 L29.09,52.05Z" fill="none" stroke="#d86a5e" stroke-width="0.6" stroke-opacity="0.4"/>
<path d="M96.51,52.05 L97.09,51.45 L97.65,50.82 L98.18,50.18 L98.70,49.52 L99.20,48.85 L99.67,48.16 L100.12,47.45 L100.54,46.73 L100.95,45.99 L101.32,45.25 L101.68,44.49 L102.01,43.72 L102.31,42.93 L102.59,42.14 L102.84,41.34 L103.06,40.54 L103.26,39.72 L103.43,38.90 L103.58,38.08 L103.70,37.25 L103.79,36.42 L103.85,35.58 L103.89,34.74 L103.90,33.91 L103.88,33.07 L103.83,32.23 L103.76,31.40 L103.66,30.57 L103.53,29.74 L103.37,28.92 L103.19,28.10 L102.98,27.29 L102.75,26.48 L102.49,25.69 L102.20,24.90 L101.89,24.12 L101.55,23.36 L101.19,22.60 L100.80,21.86 L100.39,21.13 L99.95,20.41 L99.49,19.71 L99.01,19.03 L98.51,18.36 L97.99,17.70 L97.44,17.07 L96.87,16.45 L96.29,15.85 L95.68,15.27 L95.06,14.71 L94.42,14.18 L93.76,13.66 L93.08,13.16 L92.39,12.69 L91.68,12.24 L90.96,11.82 L90.23,11.41 L89.48,11.03 L88.72,10.68 L87.95,10.35 L87.17,10.05 L86.38,9.77 L85.58,9.52 L84.77,9.30 L83.96,9.10 L83.14,8.93 L82.31,8.78 L81.48,8.66 L80.65,8.57 L79.81,8.51 L78.98,8.47 L78.14,8.46 L77.30,8.48 L76.47,8.53 L75.63,8.60 L74.80,8.70 L73.97,8.83 L73.15,8.99 L72.33,9.17 L71.52,9.38 L70.72,9.61 L69.92,9.87 L69.13,10.16 L68.36,10.47 L67.59,10.81 L66.83,11.17 L66.09,11.56 L65.36,11.97 L64.65,12.41 L63.94,12.86 L63.26,13.35 L62.59,13.85 L61.94,14.37 L61.30,14.92 L60.68,15.49 L60.08,16.07 L29.09,47.45 L28.51,48.05 L27.95,48.68 L27.42,49.32 L26.90,49.98 L26.40,50.65 L25.93,51.34 L25.48,52.05 L25.06,52.77 L24.65,53.51 L24.28,54.25 L23.92,55.01 L23.59,55.78 L23.29,56.57 L23.01,57.36 L22.76,58.16 L22.54,58.96 L22.34,59.78 L22.17,60.60 L22.02,61.42 L21.90,62.25 L21.81,63.08 L21.75,63.92 L21.71,64.76 L21.70,65.59 L21.72,66.43 L21.77,67.27 L21.84,68.10 L21.94,68.93 L22.07,69.76 L22.23,70.58 L22.41,71.40 L22.62,72.21 L22.85,73.02 L23.11,73.81 L23.40,74.60 L23.71,75.38 L24.05,76.14 L24.41,76.90 L24.80,77.64 L25.21,78.37 L25.65,79.09 L26.11,79.79 L26.59,80.47 L27.09,81.14 L27.61,81.80 L28.16,82.43 L28.73,83.05 L29.31,83.65 L29.92,84.23 L30.54,84.79 L31.18,85.32 L31.84,85.84 L32.52,86.34 L33.21,86.81 L33.92,87.26 L34.64,87.68 L35.37,88.09 L36.12,88.47 L36.88,88.82 L37.65,89.15 L38.43,89.45 L39.22,89.73 L40.02,89.98 L40.83,90.20 L41.64,90.40 L42.46,90.57 L43.29,90.72 L44.12,90.84 L44.95,90.93 L45.79,90.99 L46.62,91.03 L47.46,91.04 L48.30,91.02 L49.13,90.97 L49.97,90.90 L50.80,90.80 L51.63,90.67 L52.45,90.51 L53.27,90.33 L54.08,90.12 L54.88,89.89 L55.68,89.63 L56.47,89.34 L57.24,89.03 L58.01,88.69 L58.77,88.33 L59.51,87.94 L60.24,87.53 L60.95,87.09 L61.66,86.64 L62.34,86.15 L63.01,85.65 L63.66,85.13 L64.30,84.58 L64.92,84.01 L65.52,83.43Z" fill="none" stroke="#52a86a" stroke-width="0.6" stroke-opacity="0.4"/></g>
<text x="163.90" y="20.63" font-size="6.5" fill="#351f1b" text-anchor="middle" font-weight="normal" stroke="#351f1b" stroke-width="0.22">192</text>
<text x="151.00" y="29.03" font-size="6.5" fill="#2f151a" text-anchor="middle" font-weight="normal" stroke="#2f151a" stroke-width="0.22">23</text>
<text x="136.40" y="51.93" font-size="6.5" fill="#1e1f2c" text-anchor="middle" font-weight="normal" stroke="#1e1f2c" stroke-width="0.22">38</text>
<text x="165.00" y="46.13" font-size="6.5" fill="#1f1f14" text-anchor="middle" font-weight="normal" stroke="#1f1f14" stroke-width="0.22">1</text>
<text x="183.00" y="31.33" font-size="6.5" fill="#242315" text-anchor="middle" font-weight="normal" stroke="#242315" stroke-width="0.22">2</text>
<text x="202.10" y="19.43" font-size="6.5" fill="#1c2c21" text-anchor="middle" font-weight="normal" stroke="#1c2c21" stroke-width="0.22">1</text>
<text x="214.70" y="33.13" font-size="6.5" fill="#1f2b19" text-anchor="middle" font-weight="normal" stroke="#1f2b19" stroke-width="0.22">0</text>
<text x="201.00" y="47.73" font-size="6.5" fill="#232310" text-anchor="middle" font-weight="normal" stroke="#232310" stroke-width="0.22">0</text>
<text x="230.20" y="51.63" font-size="6.5" fill="#343322" text-anchor="middle" font-weight="normal" stroke="#343322" stroke-width="0.22">1</text>
<text x="183.10" y="66.83" font-size="6.5" fill="#1f1f14" text-anchor="middle" font-weight="normal" stroke="#1f1f14" stroke-width="0.22">0</text>
<text x="151.70" y="67.73" font-size="6.5" fill="#0c241e" text-anchor="middle" font-weight="normal" stroke="#0c241e" stroke-width="0.22">0</text>
<text x="215.10" y="67.13" font-size="6.5" fill="#341e11" text-anchor="middle" font-weight="normal" stroke="#341e11" stroke-width="0.22">1</text>
<text x="167.40" y="84.33" font-size="6.5" fill="#0c241e" text-anchor="middle" font-weight="normal" stroke="#0c241e" stroke-width="0.22">0</text>
<text x="199.20" y="84.33" font-size="6.5" fill="#2f1616" text-anchor="middle" font-weight="normal" stroke="#2f1616" stroke-width="0.22">0</text>
<text x="183.80" y="98.23" font-size="6.5" fill="#1e1f2c" text-anchor="middle" font-weight="normal" stroke="#1e1f2c" stroke-width="0.22">0</text>
<text x="160.00" y="39.62" font-size="9.0" fill="#1e1e1e" text-anchor="middle" font-weight="normal" stroke="#1e1e1e" stroke-width="0.3">(Set 2)</text>
<text x="153.80" y="7.92" font-size="6.2" fill="#222" text-anchor="middle" font-weight="normal" stroke="#222" stroke-width="0.18">ALL</text>
<text x="213.00" y="7.72" font-size="6.2" fill="#222" text-anchor="middle" font-weight="normal" stroke="#222" stroke-width="0.18">CML</text>
<text x="131.20" y="31.46" font-size="6.3" fill="#222" stroke="#222" stroke-width="0.18" text-anchor="middle" transform="rotate(-45 131.20 29.20)">AML</text>
<text x="235.20" y="32.36" font-size="6.3" fill="#222" stroke="#222" stroke-width="0.18" text-anchor="middle" transform="rotate(45 235.20 30.10)">CLL</text>
<text x="184.40" y="113.60" font-size="7.2" fill="#222" text-anchor="middle"  stroke="#222" stroke-width="0.15">Childhood</text>
<text x="123.30" y="9.80" font-size="11" fill="#111" text-anchor="start" font-weight="bold">B</text>
<defs><clipPath id="Cc"><ellipse cx="293.25" cy="48.4" rx="46" ry="42.7"/></clipPath></defs>
<ellipse cx="293.25" cy="48.4" rx="46" ry="42.7" fill="none" stroke="#96709f" stroke-width="1.3"/>
<ellipse cx="333.2" cy="48.25" rx="45.8" ry="42.85" fill="none" stroke="#5a9c70" stroke-width="1.3"/>
<ellipse cx="293.25" cy="48.4" rx="46" ry="42.7" fill="#ae89be"/>
<ellipse cx="333.2" cy="48.25" rx="45.8" ry="42.85" fill="#7dc193"/>
<g clip-path="url(#Cc)"><ellipse cx="333.2" cy="48.25" rx="45.8" ry="42.85" fill="#5c9a88"/></g>
<ellipse cx="293.25" cy="48.4" rx="46" ry="42.7" fill="none" stroke="#96709f" stroke-width="0.7" stroke-opacity="0.6"/>
<ellipse cx="333.2" cy="48.25" rx="45.8" ry="42.85" fill="none" stroke="#5a9c70" stroke-width="0.7" stroke-opacity="0.6"/>
<text x="242.40" y="10.00" font-size="11" fill="#111" text-anchor="start" font-weight="bold">C</text>
<text x="267.25" y="51.00" font-size="8.3" fill="#111" text-anchor="middle"  stroke="#111" stroke-width="0.22">648</text>
<text x="269.30" y="59.70" font-size="8.3" fill="#111" text-anchor="middle"  stroke="#111" stroke-width="0.22">Adult</text>
<text x="312.60" y="51.00" font-size="8.3" fill="#111" text-anchor="middle"  stroke="#111" stroke-width="0.22">44</text>
<text x="313.00" y="59.70" font-size="8.3" fill="#d04a50" text-anchor="middle"  stroke="#d04a50" stroke-width="0.18">(Set3)</text>
<text x="359.60" y="51.00" font-size="8.3" fill="#111" text-anchor="middle"  stroke="#111" stroke-width="0.22">18</text>
<text x="358.50" y="59.70" font-size="8.3" fill="#111" text-anchor="middle"  stroke="#111" stroke-width="0.22">Childhood</text>
<text x="310.20" y="99.70" font-size="8.3" fill="#111" text-anchor="middle"  stroke="#111" stroke-width="0.22">AML</text>
<defs><clipPath id="Dc"><ellipse cx="433.2" cy="48.65" rx="47.1" ry="42.95"/></clipPath></defs>
<ellipse cx="433.2" cy="48.65" rx="47.1" ry="42.95" fill="none" stroke="#96709f" stroke-width="1.3"/>
<ellipse cx="471.85" cy="48.65" rx="46.35" ry="42.95" fill="none" stroke="#4e7f63" stroke-width="1.3"/>
<ellipse cx="433.2" cy="48.65" rx="47.1" ry="42.95" fill="#ae89be"/>
<ellipse cx="471.85" cy="48.65" rx="46.35" ry="42.95" fill="#6c9f84"/>
<g clip-path="url(#Dc)"><ellipse cx="471.85" cy="48.65" rx="46.35" ry="42.95" fill="#547c7a"/></g>
<ellipse cx="433.2" cy="48.65" rx="47.1" ry="42.95" fill="none" stroke="#96709f" stroke-width="0.7" stroke-opacity="0.6"/>
<ellipse cx="471.85" cy="48.65" rx="46.35" ry="42.95" fill="none" stroke="#4e7f63" stroke-width="0.7" stroke-opacity="0.6"/>
<text x="381.30" y="9.80" font-size="11" fill="#111" text-anchor="start" font-weight="bold">D</text>
<text x="406.40" y="51.00" font-size="8.3" fill="#111" text-anchor="middle"  stroke="#111" stroke-width="0.22">292</text>
<text x="404.60" y="59.80" font-size="8.3" fill="#111" text-anchor="middle"  stroke="#111" stroke-width="0.22">Adult</text>
<text x="453.10" y="51.00" font-size="8.3" fill="#111" text-anchor="middle"  stroke="#111" stroke-width="0.22">104</text>
<text x="453.00" y="59.80" font-size="8.3" fill="#d83c48" text-anchor="middle"  stroke="#d83c48" stroke-width="0.18">(Set4)</text>
<text x="498.00" y="51.00" font-size="8.3" fill="#111" text-anchor="middle"  stroke="#111" stroke-width="0.22">115</text>
<text x="497.40" y="59.80" font-size="8.3" fill="#111" text-anchor="middle"  stroke="#111" stroke-width="0.22">Childhood</text>
<text x="452.80" y="99.50" font-size="8.3" fill="#111" text-anchor="middle"  stroke="#111" stroke-width="0.22">ALL</text>
<text x="1.3" y="126.8" font-size="11" font-weight="bold" fill="#111">E</text>
<text x="4.4" y="155.9" font-size="8.8" font-weight="bold" fill="#111" letter-spacing="0.35">-Log (P)</text>
<line x1="56" y1="197.60" x2="506" y2="197.60" stroke="#e4e4e4" stroke-width="0.6"/>
<text x="54" y="199.20" font-size="4.6" fill="#777" text-anchor="end">0</text>
<line x1="56" y1="187.35" x2="506" y2="187.35" stroke="#e4e4e4" stroke-width="0.6"/>
<text x="54" y="188.95" font-size="4.6" fill="#777" text-anchor="end">0.5</text>
<line x1="56" y1="177.10" x2="506" y2="177.10" stroke="#e4e4e4" stroke-width="0.6"/>
<text x="54" y="178.70" font-size="4.6" fill="#777" text-anchor="end">1</text>
<line x1="56" y1="166.85" x2="506" y2="166.85" stroke="#e4e4e4" stroke-width="0.6"/>
<text x="54" y="168.45" font-size="4.6" fill="#777" text-anchor="end">1.5</text>
<line x1="56" y1="156.60" x2="506" y2="156.60" stroke="#e4e4e4" stroke-width="0.6"/>
<text x="54" y="158.20" font-size="4.6" fill="#777" text-anchor="end">2</text>
<line x1="56" y1="146.35" x2="506" y2="146.35" stroke="#e4e4e4" stroke-width="0.6"/>
<text x="54" y="147.95" font-size="4.6" fill="#777" text-anchor="end">2.5</text>
<line x1="56" y1="136.10" x2="506" y2="136.10" stroke="#e4e4e4" stroke-width="0.6"/>
<text x="54" y="137.70" font-size="4.6" fill="#777" text-anchor="end">3</text>
<line x1="56" y1="125.85" x2="506" y2="125.85" stroke="#e4e4e4" stroke-width="0.6"/>
<text x="54" y="127.45" font-size="4.6" fill="#777" text-anchor="end">3.5</text>
<rect x="59.70" y="141.02" width="4.9" height="56.58" fill="url(#gG)"/>
<text x="62.70" y="204.00" font-size="4.9" fill="#4c4c4c" text-anchor="end" transform="rotate(-45 62.70 204.00)">Intrinsic Pathway for Apoptosis</text>
<rect x="68.70" y="144.91" width="4.9" height="52.69" fill="url(#gG)"/>
<text x="71.70" y="204.00" font-size="4.9" fill="#4c4c4c" text-anchor="end" transform="rotate(-45 71.70 204.00)">Apoptosis signaling pathway</text>
<rect x="77.70" y="148.81" width="4.9" height="48.79" fill="url(#gG)"/>
<text x="80.70" y="204.00" font-size="4.9" fill="#4c4c4c" text-anchor="end" transform="rotate(-45 80.70 204.00)">Hepatitis B</text>
<rect x="86.70" y="154.75" width="4.9" height="42.84" fill="url(#gG)"/>
<text x="89.70" y="204.00" font-size="4.9" fill="#4c4c4c" text-anchor="end" transform="rotate(-45 89.70 204.00)">IL2 signaling events mediated by PI3K</text>
<rect x="95.70" y="155.57" width="4.9" height="42.03" fill="url(#gG)"/>
<text x="98.70" y="204.00" font-size="4.9" fill="#4c4c4c" text-anchor="end" transform="rotate(-45 98.70 204.00)">BH3-only proteins associate with BCL2</text>
<rect x="104.70" y="155.57" width="4.9" height="42.03" fill="url(#gG)"/>
<text x="107.70" y="204.00" font-size="4.9" fill="#4c4c4c" text-anchor="end" transform="rotate(-45 107.70 204.00)">Activation of BH3-only proteins</text>
<rect x="113.70" y="155.57" width="4.9" height="42.03" fill="url(#gG)"/>
<text x="116.70" y="204.00" font-size="4.9" fill="#4c4c4c" text-anchor="end" transform="rotate(-45 116.70 204.00)">Programmed Cell Death</text>
<rect x="122.70" y="157.22" width="4.9" height="40.38" fill="url(#gG)"/>
<text x="125.70" y="204.00" font-size="4.9" fill="#4c4c4c" text-anchor="end" transform="rotate(-45 125.70 204.00)">Cellular responses to stress</text>
<rect x="140.50" y="153.12" width="4.9" height="44.48" fill="#2e3589"/>
<text x="143.50" y="204.00" font-size="4.9" fill="#4c4c4c" text-anchor="end" transform="rotate(-45 143.50 204.00)">RAF/MAP kinase cascade</text>
<rect x="149.50" y="153.12" width="4.9" height="44.48" fill="#2e3589"/>
<text x="152.50" y="204.00" font-size="4.9" fill="#4c4c4c" text-anchor="end" transform="rotate(-45 152.50 204.00)">GRB2 events in EGFR signaling</text>
<rect x="158.50" y="153.12" width="4.9" height="44.48" fill="#2e3589"/>
<text x="161.50" y="204.00" font-size="4.9" fill="#4c4c4c" text-anchor="end" transform="rotate(-45 161.50 204.00)">SOS-mediated signalling</text>
<rect x="167.50" y="153.12" width="4.9" height="44.48" fill="#2e3589"/>
<text x="170.50" y="204.00" font-size="4.9" fill="#4c4c4c" text-anchor="end" transform="rotate(-45 170.50 204.00)">SHC1 events in EGFR signaling</text>
<rect x="176.50" y="153.12" width="4.9" height="44.48" fill="#2e3589"/>
<text x="179.50" y="204.00" font-size="4.9" fill="#4c4c4c" text-anchor="end" transform="rotate(-45 179.50 204.00)">SHC-mediated signalling</text>
<rect x="185.50" y="153.12" width="4.9" height="44.48" fill="#2e3589"/>
<text x="188.50" y="204.00" font-size="4.9" fill="#4c4c4c" text-anchor="end" transform="rotate(-45 188.50 204.00)">Signalling to p38 via RIT and RIN</text>
<rect x="194.50" y="153.12" width="4.9" height="44.48" fill="#2e3589"/>
<text x="197.50" y="204.00" font-size="4.9" fill="#4c4c4c" text-anchor="end" transform="rotate(-45 197.50 204.00)">ARMS-mediated activation</text>
<rect x="203.50" y="153.12" width="4.9" height="44.48" fill="#2e3589"/>
<text x="206.50" y="204.00" font-size="4.9" fill="#4c4c4c" text-anchor="end" transform="rotate(-45 206.50 204.00)">SHC-related events triggered by IGF1R</text>
<rect x="212.50" y="153.12" width="4.9" height="44.48" fill="#2e3589"/>
<text x="215.50" y="204.00" font-size="4.9" fill="#4c4c4c" text-anchor="end" transform="rotate(-45 215.50 204.00)">SHC-related events</text>
<rect x="221.50" y="153.12" width="4.9" height="44.48" fill="#2e3589"/>
<text x="224.50" y="204.00" font-size="4.9" fill="#4c4c4c" text-anchor="end" transform="rotate(-45 224.50 204.00)">Signalling by Leptin</text>
<rect x="230.50" y="153.12" width="4.9" height="44.48" fill="#2e3589"/>
<text x="233.50" y="204.00" font-size="4.9" fill="#4c4c4c" text-anchor="end" transform="rotate(-45 233.50 204.00)">Frs2-mediated activation</text>
<rect x="239.50" y="153.73" width="4.9" height="43.87" fill="#2e3589"/>
<text x="242.50" y="204.00" font-size="4.9" fill="#4c4c4c" text-anchor="end" transform="rotate(-45 242.50 204.00)">SHC1 events in ERBB4 signaling</text>
<rect x="248.50" y="154.14" width="4.9" height="43.46" fill="#2e3589"/>
<text x="251.50" y="204.00" font-size="4.9" fill="#4c4c4c" text-anchor="end" transform="rotate(-45 251.50 204.00)">Prolonged ERK activation events</text>
<rect x="257.50" y="154.34" width="4.9" height="43.25" fill="#2e3589"/>
<text x="260.50" y="204.00" font-size="4.9" fill="#4c4c4c" text-anchor="end" transform="rotate(-45 260.50 204.00)">GRB2 events in ERBB2 signaling</text>
<rect x="266.50" y="154.34" width="4.9" height="43.25" fill="#2e3589"/>
<text x="269.50" y="204.00" font-size="4.9" fill="#4c4c4c" text-anchor="end" transform="rotate(-45 269.50 204.00)">SHC1 events in ERBB2 signaling</text>
<rect x="284.30" y="125.44" width="4.9" height="72.16" fill="#a96c20"/>
<text x="287.30" y="204.00" font-size="4.9" fill="#4c4c4c" text-anchor="end" transform="rotate(-45 287.30 204.00)">Signalling by Leptin</text>
<rect x="293.30" y="136.31" width="4.9" height="61.29" fill="#a96c20"/>
<text x="296.30" y="204.00" font-size="4.9" fill="#4c4c4c" text-anchor="end" transform="rotate(-45 296.30 204.00)">Acute myeloid leukemia</text>
<rect x="302.30" y="139.38" width="4.9" height="58.22" fill="#a96c20"/>
<text x="305.30" y="204.00" font-size="4.9" fill="#4c4c4c" text-anchor="end" transform="rotate(-45 305.30 204.00)">Interleukin-3 signaling</text>
<rect x="311.30" y="139.38" width="4.9" height="58.22" fill="#a96c20"/>
<text x="314.30" y="204.00" font-size="4.9" fill="#4c4c4c" text-anchor="end" transform="rotate(-45 314.30 204.00)">Interleukin-6 signaling</text>
<rect x="320.30" y="142.04" width="4.9" height="55.56" fill="#a96c20"/>
<text x="323.30" y="204.00" font-size="4.9" fill="#4c4c4c" text-anchor="end" transform="rotate(-45 323.30 204.00)">Signaling by Interleukins</text>
<rect x="329.30" y="149.01" width="4.9" height="48.59" fill="#a96c20"/>
<text x="332.30" y="204.00" font-size="4.9" fill="#4c4c4c" text-anchor="end" transform="rotate(-45 332.30 204.00)">Signaling by SCF-KIT</text>
<rect x="338.30" y="149.22" width="4.9" height="48.38" fill="#a96c20"/>
<text x="341.30" y="204.00" font-size="4.9" fill="#4c4c4c" text-anchor="end" transform="rotate(-45 341.30 204.00)">Pathways in cancer</text>
<rect x="347.30" y="149.83" width="4.9" height="47.77" fill="#a96c20"/>
<text x="350.30" y="204.00" font-size="4.9" fill="#4c4c4c" text-anchor="end" transform="rotate(-45 350.30 204.00)">RAF/MAP kinase cascade</text>
<rect x="365.20" y="142.04" width="4.9" height="55.56" fill="#2f0f33"/>
<text x="368.20" y="204.00" font-size="4.9" fill="#4c4c4c" text-anchor="end" transform="rotate(-45 368.20 204.00)">Signaling by SCF-KIT</text>
<rect x="374.20" y="145.74" width="4.9" height="51.86" fill="#2f0f33"/>
<text x="377.20" y="204.00" font-size="4.9" fill="#4c4c4c" text-anchor="end" transform="rotate(-45 377.20 204.00)">Signaling by ERBB4</text>
<rect x="383.20" y="145.74" width="4.9" height="51.86" fill="#2f0f33"/>
<text x="386.20" y="204.00" font-size="4.9" fill="#4c4c4c" text-anchor="end" transform="rotate(-45 386.20 204.00)">Signaling by FGFR in disease</text>
<rect x="392.20" y="145.74" width="4.9" height="51.86" fill="#2f0f33"/>
<text x="395.20" y="204.00" font-size="4.9" fill="#4c4c4c" text-anchor="end" transform="rotate(-45 395.20 204.00)">Interleukin signaling pathway</text>
<rect x="401.20" y="153.12" width="4.9" height="44.48" fill="#2f0f33"/>
<text x="404.20" y="204.00" font-size="4.9" fill="#4c4c4c" text-anchor="end" transform="rotate(-45 404.20 204.00)">Signaling by Interleukins</text>
<rect x="410.20" y="154.75" width="4.9" height="42.84" fill="#2f0f33"/>
<text x="413.20" y="204.00" font-size="4.9" fill="#4c4c4c" text-anchor="end" transform="rotate(-45 413.20 204.00)">Interleukin-7 signaling</text>
<rect x="419.20" y="155.37" width="4.9" height="42.23" fill="#2f0f33"/>
<text x="422.20" y="204.00" font-size="4.9" fill="#4c4c4c" text-anchor="end" transform="rotate(-45 422.20 204.00)">Signalling by Leptin</text>
<rect x="428.20" y="155.37" width="4.9" height="42.23" fill="#2f0f33"/>
<text x="431.20" y="204.00" font-size="4.9" fill="#4c4c4c" text-anchor="end" transform="rotate(-45 431.20 204.00)">Fc epsilon receptor (FCERI) signaling</text>
<rect x="437.20" y="155.37" width="4.9" height="42.23" fill="#2f0f33"/>
<text x="440.20" y="204.00" font-size="4.9" fill="#4c4c4c" text-anchor="end" transform="rotate(-45 440.20 204.00)">Death Receptor Signalling</text>
<rect x="446.20" y="155.37" width="4.9" height="42.23" fill="#2f0f33"/>
<text x="449.20" y="204.00" font-size="4.9" fill="#4c4c4c" text-anchor="end" transform="rotate(-45 449.20 204.00)">Hepatitis B</text>
<rect x="455.20" y="156.39" width="4.9" height="41.21" fill="#2f0f33"/>
<text x="458.20" y="204.00" font-size="4.9" fill="#4c4c4c" text-anchor="end" transform="rotate(-45 458.20 204.00)">Signaling by FGFR</text>
<rect x="464.20" y="157.42" width="4.9" height="40.18" fill="#2f0f33"/>
<text x="467.20" y="204.00" font-size="4.9" fill="#4c4c4c" text-anchor="end" transform="rotate(-45 467.20 204.00)">p53 pathway feedback loops 2</text>
<rect x="473.20" y="158.85" width="4.9" height="38.75" fill="#2f0f33"/>
<text x="476.20" y="204.00" font-size="4.9" fill="#4c4c4c" text-anchor="end" transform="rotate(-45 476.20 204.00)">FasL/ CD95L signaling</text>
<rect x="482.20" y="159.47" width="4.9" height="38.13" fill="#2f0f33"/>
<text x="485.20" y="204.00" font-size="4.9" fill="#4c4c4c" text-anchor="end" transform="rotate(-45 485.20 204.00)">Interleukin-2 signaling</text>
<rect x="491.20" y="160.50" width="4.9" height="37.10" fill="#2f0f33"/>
<text x="494.20" y="204.00" font-size="4.9" fill="#4c4c4c" text-anchor="end" transform="rotate(-45 494.20 204.00)">Downstream TCR signaling</text>
<rect x="500.20" y="160.50" width="4.9" height="37.10" fill="#2f0f33"/>
<text x="503.20" y="204.00" font-size="4.9" fill="#4c4c4c" text-anchor="end" transform="rotate(-45 503.20 204.00)">Downstream signaling of activated FGFR</text>
<text x="79.8" y="135.3" font-size="12.6" font-weight="bold" fill="#111" stroke="#111" stroke-width="0.25">Set1</text>
<text x="190.4" y="135.3" font-size="12.6" font-weight="bold" fill="#111" stroke="#111" stroke-width="0.25">Set2</text>
<text x="311.5" y="135.3" font-size="12.6" font-weight="bold" fill="#111" stroke="#111" stroke-width="0.25">Set3</text>
<text x="418.5" y="135.3" font-size="12.6" font-weight="bold" fill="#111" stroke="#111" stroke-width="0.25">Set4</text>
</svg>
</body></html>
